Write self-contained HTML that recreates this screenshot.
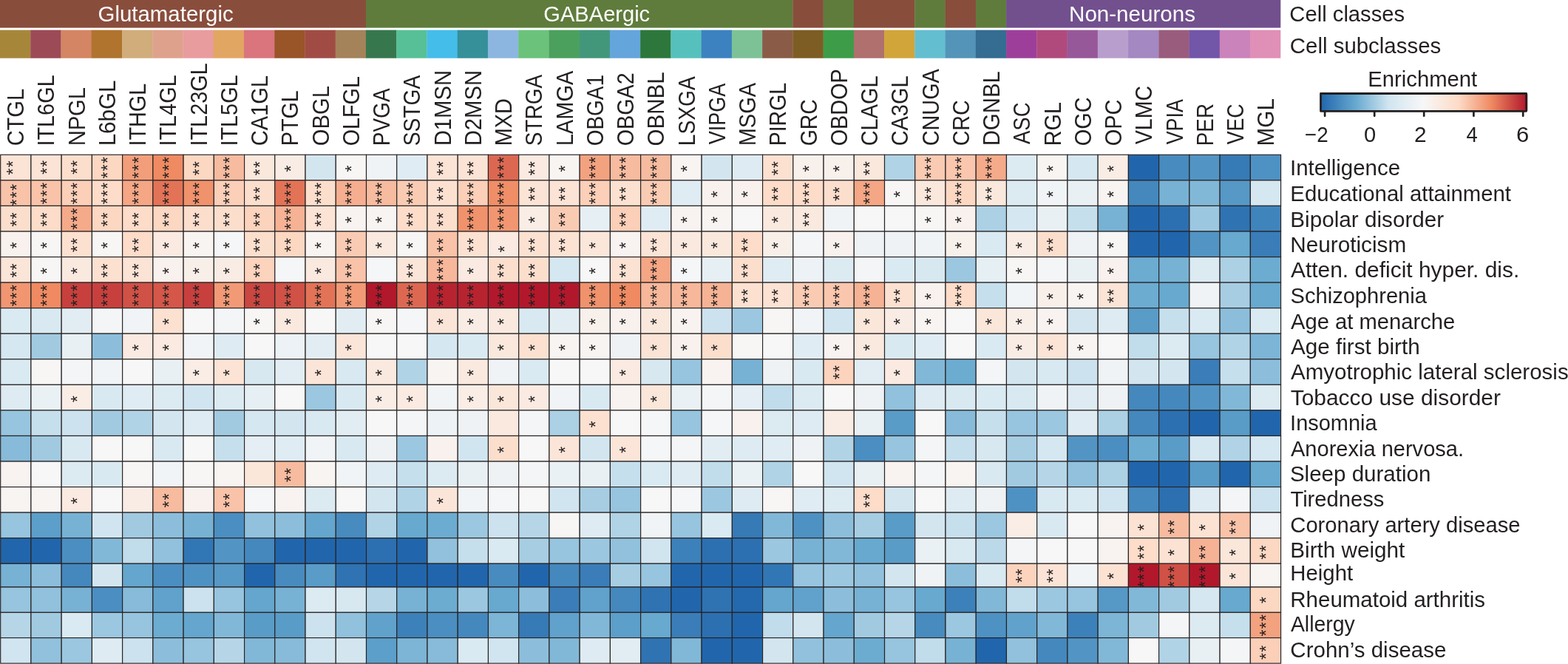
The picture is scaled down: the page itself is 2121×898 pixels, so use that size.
<!DOCTYPE html>
<html lang="en"><head><meta charset="utf-8"><title>Enrichment heatmap</title>
<style>html,body{margin:0;padding:0;background:#fff}body{width:2121px;height:898px;overflow:hidden}svg{display:block}text{font-family:'Liberation Sans', Arial, Helvetica, sans-serif;fill:#231f20}.w{fill:#fff}.g rect{stroke:#272223;stroke-width:1.15}</style></head><body>
<svg width="2121" height="898" viewBox="0 0 2121 898" role="img" aria-label="Heatmap of trait enrichment across cell subclasses">
<rect width="2121" height="898" fill="#fff"/>
<g id="classes">
<rect x="0" y="0" width="495.24" height="37.6" fill="#894d3c"/>
<rect x="494.94" y="0" width="577.73" height="37.6" fill="#5f7c3c"/>
<rect x="1072.37" y="0" width="41.55" height="37.6" fill="#894d3c"/>
<rect x="1113.62" y="0" width="41.54" height="37.6" fill="#5f7c3c"/>
<rect x="1154.86" y="0" width="82.79" height="37.6" fill="#894d3c"/>
<rect x="1237.35" y="0" width="41.55" height="37.6" fill="#5f7c3c"/>
<rect x="1278.6" y="0" width="41.54" height="37.6" fill="#894d3c"/>
<rect x="1319.84" y="0" width="41.54" height="37.6" fill="#5f7c3c"/>
<rect x="1361.08" y="0" width="371.21" height="37.6" fill="#71508d"/>
</g>
<g id="subclasses">
<rect x="0" y="40.6" width="41.54" height="38.1" fill="#a6873a"/>
<rect x="41.24" y="40.6" width="41.54" height="38.1" fill="#9c4a56"/>
<rect x="82.49" y="40.6" width="41.54" height="38.1" fill="#d48564"/>
<rect x="123.73" y="40.6" width="41.54" height="38.1" fill="#b0742e"/>
<rect x="164.98" y="40.6" width="41.54" height="38.1" fill="#d0ad7a"/>
<rect x="206.22" y="40.6" width="41.54" height="38.1" fill="#dea18c"/>
<rect x="247.47" y="40.6" width="41.54" height="38.1" fill="#e89c9e"/>
<rect x="288.71" y="40.6" width="41.54" height="38.1" fill="#e2a663"/>
<rect x="329.96" y="40.6" width="41.54" height="38.1" fill="#da747d"/>
<rect x="371.2" y="40.6" width="41.54" height="38.1" fill="#995428"/>
<rect x="412.45" y="40.6" width="41.54" height="38.1" fill="#a04c44"/>
<rect x="453.69" y="40.6" width="41.54" height="38.1" fill="#a4835a"/>
<rect x="494.94" y="40.6" width="41.54" height="38.1" fill="#37774e"/>
<rect x="536.18" y="40.6" width="41.54" height="38.1" fill="#57c097"/>
<rect x="577.43" y="40.6" width="41.54" height="38.1" fill="#45bdea"/>
<rect x="618.67" y="40.6" width="41.54" height="38.1" fill="#359099"/>
<rect x="659.92" y="40.6" width="41.54" height="38.1" fill="#8cb6e0"/>
<rect x="701.16" y="40.6" width="41.54" height="38.1" fill="#6bc27b"/>
<rect x="742.41" y="40.6" width="41.54" height="38.1" fill="#4ba05e"/>
<rect x="783.65" y="40.6" width="41.54" height="38.1" fill="#42977b"/>
<rect x="824.9" y="40.6" width="41.54" height="38.1" fill="#64a5db"/>
<rect x="866.14" y="40.6" width="41.54" height="38.1" fill="#2d773c"/>
<rect x="907.39" y="40.6" width="41.54" height="38.1" fill="#56c1bc"/>
<rect x="948.63" y="40.6" width="41.54" height="38.1" fill="#3c82c0"/>
<rect x="989.88" y="40.6" width="41.54" height="38.1" fill="#7dc297"/>
<rect x="1031.12" y="40.6" width="41.54" height="38.1" fill="#8a5c48"/>
<rect x="1072.37" y="40.6" width="41.54" height="38.1" fill="#7e5d24"/>
<rect x="1113.62" y="40.6" width="41.54" height="38.1" fill="#3d9c47"/>
<rect x="1154.86" y="40.6" width="41.54" height="38.1" fill="#b0706e"/>
<rect x="1196.11" y="40.6" width="41.54" height="38.1" fill="#d1a53a"/>
<rect x="1237.35" y="40.6" width="41.54" height="38.1" fill="#63bed0"/>
<rect x="1278.6" y="40.6" width="41.54" height="38.1" fill="#5394b8"/>
<rect x="1319.84" y="40.6" width="41.54" height="38.1" fill="#346c92"/>
<rect x="1361.08" y="40.6" width="41.54" height="38.1" fill="#9d3f9a"/>
<rect x="1402.33" y="40.6" width="41.54" height="38.1" fill="#b04a7c"/>
<rect x="1443.57" y="40.6" width="41.54" height="38.1" fill="#97589a"/>
<rect x="1484.82" y="40.6" width="41.54" height="38.1" fill="#b89ecd"/>
<rect x="1526.06" y="40.6" width="41.54" height="38.1" fill="#a388c2"/>
<rect x="1567.31" y="40.6" width="41.54" height="38.1" fill="#9a5c7c"/>
<rect x="1608.55" y="40.6" width="41.54" height="38.1" fill="#7256a8"/>
<rect x="1649.8" y="40.6" width="41.54" height="38.1" fill="#cb83bb"/>
<rect x="1691.04" y="40.6" width="41.24" height="38.1" fill="#e08fb6"/>
</g>
<text x="132.53" y="28.8" font-size="30" textLength="183.2" lengthAdjust="spacingAndGlyphs" class="w">Glutamatergic</text>
<text x="735.35" y="28.8" font-size="30" textLength="143.82" lengthAdjust="spacingAndGlyphs" class="w">GABAergic</text>
<text x="1446.03" y="28.8" font-size="30" textLength="170.99" lengthAdjust="spacingAndGlyphs" class="w">Non-neurons</text>
<text x="1744.34" y="28.8" font-size="30" textLength="155.88" lengthAdjust="spacingAndGlyphs">Cell classes</text>
<text x="1744.83" y="72.2" font-size="30" textLength="204.37" lengthAdjust="spacingAndGlyphs">Cell subclasses</text>
<g id="collabels">
<text transform="translate(32.2 197.35) rotate(-90)" font-size="30.5" textLength="77.43" lengthAdjust="spacingAndGlyphs">CTGL</text>
<text transform="translate(73.45 197.6) rotate(-90)" font-size="30.5" textLength="96.31" lengthAdjust="spacingAndGlyphs">ITL6GL</text>
<text transform="translate(114.7 197.33) rotate(-90)" font-size="30.5" textLength="79.3" lengthAdjust="spacingAndGlyphs">NPGL</text>
<text transform="translate(155.95 197.37) rotate(-90)" font-size="30.5" textLength="88.93" lengthAdjust="spacingAndGlyphs">L6bGL</text>
<text transform="translate(197.2 197.59) rotate(-90)" font-size="30.5" textLength="84.79" lengthAdjust="spacingAndGlyphs">ITHGL</text>
<text transform="translate(238.45 197.6) rotate(-90)" font-size="30.5" textLength="96.31" lengthAdjust="spacingAndGlyphs">ITL4GL</text>
<text transform="translate(279.7 197.6) rotate(-90)" font-size="30.5" textLength="112.4" lengthAdjust="spacingAndGlyphs">ITL23GL</text>
<text transform="translate(320.95 197.6) rotate(-90)" font-size="30.5" textLength="96.31" lengthAdjust="spacingAndGlyphs">ITL5GL</text>
<text transform="translate(362.2 197.35) rotate(-90)" font-size="30.5" textLength="95.41" lengthAdjust="spacingAndGlyphs">CA1GL</text>
<text transform="translate(403.45 197.3) rotate(-90)" font-size="30.5" textLength="75.12" lengthAdjust="spacingAndGlyphs">PTGL</text>
<text transform="translate(444.7 197.36) rotate(-90)" font-size="30.5" textLength="81.31" lengthAdjust="spacingAndGlyphs">OBGL</text>
<text transform="translate(485.95 197.34) rotate(-90)" font-size="30.5" textLength="94.27" lengthAdjust="spacingAndGlyphs">OLFGL</text>
<text transform="translate(527.2 197.24) rotate(-90)" font-size="30.5" textLength="77.81" lengthAdjust="spacingAndGlyphs">PVGA</text>
<text transform="translate(568.45 197.31) rotate(-90)" font-size="30.5" textLength="95.5" lengthAdjust="spacingAndGlyphs">SSTGA</text>
<text transform="translate(609.7 197.34) rotate(-90)" font-size="30.5" textLength="102.5" lengthAdjust="spacingAndGlyphs">D1MSN</text>
<text transform="translate(650.95 197.34) rotate(-90)" font-size="30.5" textLength="102.5" lengthAdjust="spacingAndGlyphs">D2MSN</text>
<text transform="translate(692.2 197.3) rotate(-90)" font-size="30.5" textLength="64.01" lengthAdjust="spacingAndGlyphs">MXD</text>
<text transform="translate(733.45 197.3) rotate(-90)" font-size="30.5" textLength="96.44" lengthAdjust="spacingAndGlyphs">STRGA</text>
<text transform="translate(774.7 197.32) rotate(-90)" font-size="30.5" textLength="101.65" lengthAdjust="spacingAndGlyphs">LAMGA</text>
<text transform="translate(815.95 197.3) rotate(-90)" font-size="30.5" textLength="96.28" lengthAdjust="spacingAndGlyphs">OBGA1</text>
<text transform="translate(857.2 197.34) rotate(-90)" font-size="30.5" textLength="98.95" lengthAdjust="spacingAndGlyphs">OBGA2</text>
<text transform="translate(898.45 197.38) rotate(-90)" font-size="30.5" textLength="100.07" lengthAdjust="spacingAndGlyphs">OBNBL</text>
<text transform="translate(939.7 197.26) rotate(-90)" font-size="30.5" textLength="94.1" lengthAdjust="spacingAndGlyphs">LSXGA</text>
<text transform="translate(980.95 195.27) rotate(-90)" font-size="30.5" textLength="82.65" lengthAdjust="spacingAndGlyphs">VIPGA</text>
<text transform="translate(1022.2 197.32) rotate(-90)" font-size="30.5" textLength="85.46" lengthAdjust="spacingAndGlyphs">MSGA</text>
<text transform="translate(1063.45 197.28) rotate(-90)" font-size="30.5" textLength="85.36" lengthAdjust="spacingAndGlyphs">PIRGL</text>
<text transform="translate(1104.7 197.32) rotate(-90)" font-size="30.5" textLength="63.22" lengthAdjust="spacingAndGlyphs">GRC</text>
<text transform="translate(1145.95 197.34) rotate(-90)" font-size="30.5" textLength="104.14" lengthAdjust="spacingAndGlyphs">OBDOP</text>
<text transform="translate(1187.2 197.35) rotate(-90)" font-size="30.5" textLength="94.9" lengthAdjust="spacingAndGlyphs">CLAGL</text>
<text transform="translate(1228.45 197.35) rotate(-90)" font-size="30.5" textLength="94.9" lengthAdjust="spacingAndGlyphs">CA3GL</text>
<text transform="translate(1269.7 197.34) rotate(-90)" font-size="30.5" textLength="104.18" lengthAdjust="spacingAndGlyphs">CNUGA</text>
<text transform="translate(1310.95 197.33) rotate(-90)" font-size="30.5" textLength="62.07" lengthAdjust="spacingAndGlyphs">CRC</text>
<text transform="translate(1352.2 197.35) rotate(-90)" font-size="30.5" textLength="101.19" lengthAdjust="spacingAndGlyphs">DGNBL</text>
<text transform="translate(1393.45 195) rotate(-90)" font-size="30.5" textLength="56.47" lengthAdjust="spacingAndGlyphs">ASC</text>
<text transform="translate(1434.7 197.31) rotate(-90)" font-size="30.5" textLength="59.25" lengthAdjust="spacingAndGlyphs">RGL</text>
<text transform="translate(1475.95 197.35) rotate(-90)" font-size="30.5" textLength="65.94" lengthAdjust="spacingAndGlyphs">OGC</text>
<text transform="translate(1517.2 197.35) rotate(-90)" font-size="30.5" textLength="62.92" lengthAdjust="spacingAndGlyphs">OPC</text>
<text transform="translate(1558.45 195.29) rotate(-90)" font-size="30.5" textLength="79.37" lengthAdjust="spacingAndGlyphs">VLMC</text>
<text transform="translate(1599.7 195.27) rotate(-90)" font-size="30.5" textLength="61.14" lengthAdjust="spacingAndGlyphs">VPIA</text>
<text transform="translate(1640.95 197.22) rotate(-90)" font-size="30.5" textLength="57.19" lengthAdjust="spacingAndGlyphs">PER</text>
<text transform="translate(1682.2 195.27) rotate(-90)" font-size="30.5" textLength="54.9" lengthAdjust="spacingAndGlyphs">VEC</text>
<text transform="translate(1723.45 197.38) rotate(-90)" font-size="30.5" textLength="64.38" lengthAdjust="spacingAndGlyphs">MGL</text>
</g>
<text x="1850.26" y="116.7" font-size="30" textLength="147.96" lengthAdjust="spacingAndGlyphs">Enrichment</text>
<defs><linearGradient id="cb" x1="0" x2="1" y1="0" y2="0">
<stop offset="0" stop-color="#2166ac"/>
<stop offset="0.17" stop-color="#67a9cf"/>
<stop offset="0.33" stop-color="#d1e5f0"/>
<stop offset="0.5" stop-color="#f7f7f7"/>
<stop offset="0.67" stop-color="#fddbc7"/>
<stop offset="0.83" stop-color="#ef8a62"/>
<stop offset="1" stop-color="#b2182b"/>
</linearGradient></defs>
<rect x="2065.6" y="127.2" width="1.3" height="22.6" fill="#f4a6ae"/>
<rect x="1786.5" y="126.5" width="278.1" height="23.8" fill="url(#cb)" stroke="#231f20" stroke-width="2.8" stroke-linejoin="round"/>
<line x1="1792.1" y1="151" x2="1792.1" y2="156.8" stroke="#231f20" stroke-width="2.7" stroke-linecap="round"/>
<line x1="1859.2" y1="151" x2="1859.2" y2="156.8" stroke="#231f20" stroke-width="2.7" stroke-linecap="round"/>
<line x1="1926.2" y1="151" x2="1926.2" y2="156.8" stroke="#231f20" stroke-width="2.7" stroke-linecap="round"/>
<line x1="1993.4" y1="151" x2="1993.4" y2="156.8" stroke="#231f20" stroke-width="2.7" stroke-linecap="round"/>
<line x1="2060.2" y1="151" x2="2060.2" y2="156.8" stroke="#231f20" stroke-width="2.7" stroke-linecap="round"/>
<text x="1765.11" y="191.6" font-size="29" textLength="31.68" lengthAdjust="spacingAndGlyphs">−2</text>
<text x="1845.03" y="191.6" font-size="29" textLength="16.22" lengthAdjust="spacingAndGlyphs">0</text>
<text x="1913.01" y="191.6" font-size="29" textLength="16.57" lengthAdjust="spacingAndGlyphs">2</text>
<text x="1983.45" y="191.6" font-size="29" textLength="15.27" lengthAdjust="spacingAndGlyphs">4</text>
<text x="2050.95" y="191.6" font-size="29" textLength="17.29" lengthAdjust="spacingAndGlyphs">6</text>
<g class="g">
<rect x="0.7" y="209.3" width="41.23" height="34.56" fill="#fbe3d5"/>
<rect x="41.94" y="209.3" width="41.23" height="34.56" fill="#fbe3d5"/>
<rect x="83.17" y="209.3" width="41.23" height="34.56" fill="#fcdecd"/>
<rect x="124.41" y="209.3" width="41.23" height="34.56" fill="#fcd7c2"/>
<rect x="165.64" y="209.3" width="41.23" height="34.56" fill="#f29e7b"/>
<rect x="206.88" y="209.3" width="41.23" height="34.56" fill="#ef8a62"/>
<rect x="248.11" y="209.3" width="41.23" height="34.56" fill="#fcd7c2"/>
<rect x="289.34" y="209.3" width="41.23" height="34.56" fill="#f7bb9f"/>
<rect x="330.58" y="209.3" width="41.23" height="34.56" fill="#fae8dd"/>
<rect x="371.81" y="209.3" width="41.23" height="34.56" fill="#f9ece4"/>
<rect x="413.05" y="209.3" width="41.23" height="34.56" fill="#d3e6f0"/>
<rect x="454.28" y="209.3" width="41.23" height="34.56" fill="#f7f6f5"/>
<rect x="495.52" y="209.3" width="41.23" height="34.56" fill="#eff3f6"/>
<rect x="536.75" y="209.3" width="41.23" height="34.56" fill="#e0ecf3"/>
<rect x="577.99" y="209.3" width="41.23" height="34.56" fill="#fbe3d5"/>
<rect x="619.23" y="209.3" width="41.23" height="34.56" fill="#fbe3d5"/>
<rect x="660.46" y="209.3" width="41.23" height="34.56" fill="#dd6852"/>
<rect x="701.7" y="209.3" width="41.23" height="34.56" fill="#faeae1"/>
<rect x="742.93" y="209.3" width="41.23" height="34.56" fill="#f8f4f2"/>
<rect x="784.17" y="209.3" width="41.23" height="34.56" fill="#f3a280"/>
<rect x="825.4" y="209.3" width="41.23" height="34.56" fill="#f7bb9f"/>
<rect x="866.63" y="209.3" width="41.23" height="34.56" fill="#f7bb9f"/>
<rect x="907.87" y="209.3" width="41.23" height="34.56" fill="#f8f4f2"/>
<rect x="949.11" y="209.3" width="41.23" height="34.56" fill="#d3e6f0"/>
<rect x="990.34" y="209.3" width="41.23" height="34.56" fill="#deebf2"/>
<rect x="1031.58" y="209.3" width="41.23" height="34.56" fill="#fce1d1"/>
<rect x="1072.81" y="209.3" width="41.23" height="34.56" fill="#f8f0eb"/>
<rect x="1114.05" y="209.3" width="41.23" height="34.56" fill="#f8f0eb"/>
<rect x="1155.28" y="209.3" width="41.23" height="34.56" fill="#fae8dd"/>
<rect x="1196.52" y="209.3" width="41.23" height="34.56" fill="#b1d3e6"/>
<rect x="1237.75" y="209.3" width="41.23" height="34.56" fill="#facbb3"/>
<rect x="1278.99" y="209.3" width="41.23" height="34.56" fill="#fac7ae"/>
<rect x="1320.22" y="209.3" width="41.23" height="34.56" fill="#f5aa8a"/>
<rect x="1361.45" y="209.3" width="41.23" height="34.56" fill="#dceaf2"/>
<rect x="1402.69" y="209.3" width="41.23" height="34.56" fill="#f8f4f1"/>
<rect x="1443.92" y="209.3" width="41.23" height="34.56" fill="#d5e7f1"/>
<rect x="1485.16" y="209.3" width="41.23" height="34.56" fill="#f9ede6"/>
<rect x="1526.39" y="209.3" width="41.23" height="34.56" fill="#2166ac"/>
<rect x="1567.63" y="209.3" width="41.23" height="34.56" fill="#488bbf"/>
<rect x="1608.87" y="209.3" width="41.23" height="34.56" fill="#5295c4"/>
<rect x="1650.1" y="209.3" width="41.23" height="34.56" fill="#367ab6"/>
<rect x="1691.34" y="209.3" width="41.23" height="34.56" fill="#4e92c3"/>
<rect x="0.7" y="243.86" width="41.23" height="34.56" fill="#f9c3a9"/>
<rect x="41.94" y="243.86" width="41.23" height="34.56" fill="#f9c3a9"/>
<rect x="83.17" y="243.86" width="41.23" height="34.56" fill="#fbcfb8"/>
<rect x="124.41" y="243.86" width="41.23" height="34.56" fill="#fddcc9"/>
<rect x="165.64" y="243.86" width="41.23" height="34.56" fill="#f4a685"/>
<rect x="206.88" y="243.86" width="41.23" height="34.56" fill="#e37357"/>
<rect x="248.11" y="243.86" width="41.23" height="34.56" fill="#f0926c"/>
<rect x="289.34" y="243.86" width="41.23" height="34.56" fill="#fbcfb8"/>
<rect x="330.58" y="243.86" width="41.23" height="34.56" fill="#fcdecd"/>
<rect x="371.81" y="243.86" width="41.23" height="34.56" fill="#e37357"/>
<rect x="413.05" y="243.86" width="41.23" height="34.56" fill="#fcdecd"/>
<rect x="454.28" y="243.86" width="41.23" height="34.56" fill="#f5ae8f"/>
<rect x="495.52" y="243.86" width="41.23" height="34.56" fill="#f7bb9f"/>
<rect x="536.75" y="243.86" width="41.23" height="34.56" fill="#facbb3"/>
<rect x="577.99" y="243.86" width="41.23" height="34.56" fill="#fce1d1"/>
<rect x="619.23" y="243.86" width="41.23" height="34.56" fill="#fbcfb8"/>
<rect x="660.46" y="243.86" width="41.23" height="34.56" fill="#f08e67"/>
<rect x="701.7" y="243.86" width="41.23" height="34.56" fill="#fbe3d5"/>
<rect x="742.93" y="243.86" width="41.23" height="34.56" fill="#fbe3d5"/>
<rect x="784.17" y="243.86" width="41.23" height="34.56" fill="#fbcfb8"/>
<rect x="825.4" y="243.86" width="41.23" height="34.56" fill="#fce1d1"/>
<rect x="866.63" y="243.86" width="41.23" height="34.56" fill="#facbb3"/>
<rect x="907.87" y="243.86" width="41.23" height="34.56" fill="#e0ecf3"/>
<rect x="949.11" y="243.86" width="41.23" height="34.56" fill="#f8f1ed"/>
<rect x="990.34" y="243.86" width="41.23" height="34.56" fill="#f8f1ed"/>
<rect x="1031.58" y="243.86" width="41.23" height="34.56" fill="#fddcc9"/>
<rect x="1072.81" y="243.86" width="41.23" height="34.56" fill="#fddcc9"/>
<rect x="1114.05" y="243.86" width="41.23" height="34.56" fill="#fcdecd"/>
<rect x="1155.28" y="243.86" width="41.23" height="34.56" fill="#f4a685"/>
<rect x="1196.52" y="243.86" width="41.23" height="34.56" fill="#f7f6f5"/>
<rect x="1237.75" y="243.86" width="41.23" height="34.56" fill="#fae8dd"/>
<rect x="1278.99" y="243.86" width="41.23" height="34.56" fill="#fcd7c2"/>
<rect x="1320.22" y="243.86" width="41.23" height="34.56" fill="#fae8dd"/>
<rect x="1361.45" y="243.86" width="41.23" height="34.56" fill="#dceaf2"/>
<rect x="1402.69" y="243.86" width="41.23" height="34.56" fill="#f1f4f6"/>
<rect x="1443.92" y="243.86" width="41.23" height="34.56" fill="#e8f0f4"/>
<rect x="1485.16" y="243.86" width="41.23" height="34.56" fill="#f8f4f2"/>
<rect x="1526.39" y="243.86" width="41.23" height="34.56" fill="#4488be"/>
<rect x="1567.63" y="243.86" width="41.23" height="34.56" fill="#77b2d4"/>
<rect x="1608.87" y="243.86" width="41.23" height="34.56" fill="#82b8d7"/>
<rect x="1650.1" y="243.86" width="41.23" height="34.56" fill="#5698c6"/>
<rect x="1691.34" y="243.86" width="41.23" height="34.56" fill="#d5e7f1"/>
<rect x="0.7" y="278.42" width="41.23" height="34.56" fill="#fcdecd"/>
<rect x="41.94" y="278.42" width="41.23" height="34.56" fill="#fddcc9"/>
<rect x="83.17" y="278.42" width="41.23" height="34.56" fill="#f5aa8a"/>
<rect x="124.41" y="278.42" width="41.23" height="34.56" fill="#fcd7c2"/>
<rect x="165.64" y="278.42" width="41.23" height="34.56" fill="#fddcc9"/>
<rect x="206.88" y="278.42" width="41.23" height="34.56" fill="#fcd7c2"/>
<rect x="248.11" y="278.42" width="41.23" height="34.56" fill="#fcdecd"/>
<rect x="289.34" y="278.42" width="41.23" height="34.56" fill="#fcdecd"/>
<rect x="330.58" y="278.42" width="41.23" height="34.56" fill="#fcd3bd"/>
<rect x="371.81" y="278.42" width="41.23" height="34.56" fill="#f6b294"/>
<rect x="413.05" y="278.42" width="41.23" height="34.56" fill="#fbe3d5"/>
<rect x="454.28" y="278.42" width="41.23" height="34.56" fill="#f8f3f0"/>
<rect x="495.52" y="278.42" width="41.23" height="34.56" fill="#f8f4f1"/>
<rect x="536.75" y="278.42" width="41.23" height="34.56" fill="#fddcc9"/>
<rect x="577.99" y="278.42" width="41.23" height="34.56" fill="#fcdecd"/>
<rect x="619.23" y="278.42" width="41.23" height="34.56" fill="#f0926c"/>
<rect x="660.46" y="278.42" width="41.23" height="34.56" fill="#f19671"/>
<rect x="701.7" y="278.42" width="41.23" height="34.56" fill="#f9ede6"/>
<rect x="742.93" y="278.42" width="41.23" height="34.56" fill="#facbb3"/>
<rect x="784.17" y="278.42" width="41.23" height="34.56" fill="#e6eff4"/>
<rect x="825.4" y="278.42" width="41.23" height="34.56" fill="#fbcfb8"/>
<rect x="866.63" y="278.42" width="41.23" height="34.56" fill="#e0ecf3"/>
<rect x="907.87" y="278.42" width="41.23" height="34.56" fill="#f8f3f0"/>
<rect x="949.11" y="278.42" width="41.23" height="34.56" fill="#f8f4f2"/>
<rect x="990.34" y="278.42" width="41.23" height="34.56" fill="#f7f7f7"/>
<rect x="1031.58" y="278.42" width="41.23" height="34.56" fill="#fae9df"/>
<rect x="1072.81" y="278.42" width="41.23" height="34.56" fill="#fae9df"/>
<rect x="1114.05" y="278.42" width="41.23" height="34.56" fill="#eff3f6"/>
<rect x="1155.28" y="278.42" width="41.23" height="34.56" fill="#f7f7f7"/>
<rect x="1196.52" y="278.42" width="41.23" height="34.56" fill="#f7f7f7"/>
<rect x="1237.75" y="278.42" width="41.23" height="34.56" fill="#f7f6f5"/>
<rect x="1278.99" y="278.42" width="41.23" height="34.56" fill="#f8f1ed"/>
<rect x="1320.22" y="278.42" width="41.23" height="34.56" fill="#acd0e4"/>
<rect x="1361.45" y="278.42" width="41.23" height="34.56" fill="#d5e7f1"/>
<rect x="1402.69" y="278.42" width="41.23" height="34.56" fill="#e8f0f4"/>
<rect x="1443.92" y="278.42" width="41.23" height="34.56" fill="#c6dfed"/>
<rect x="1485.16" y="278.42" width="41.23" height="34.56" fill="#77b2d4"/>
<rect x="1526.39" y="278.42" width="41.23" height="34.56" fill="#2166ac"/>
<rect x="1567.63" y="278.42" width="41.23" height="34.56" fill="#2c70b1"/>
<rect x="1608.87" y="278.42" width="41.23" height="34.56" fill="#9cc7e0"/>
<rect x="1650.1" y="278.42" width="41.23" height="34.56" fill="#2f73b3"/>
<rect x="1691.34" y="278.42" width="41.23" height="34.56" fill="#4084bc"/>
<rect x="0.7" y="312.98" width="41.23" height="34.56" fill="#f8f1ed"/>
<rect x="41.94" y="312.98" width="41.23" height="34.56" fill="#f7f6f5"/>
<rect x="83.17" y="312.98" width="41.23" height="34.56" fill="#fce1d1"/>
<rect x="124.41" y="312.98" width="41.23" height="34.56" fill="#f7f6f5"/>
<rect x="165.64" y="312.98" width="41.23" height="34.56" fill="#fddcc9"/>
<rect x="206.88" y="312.98" width="41.23" height="34.56" fill="#faeae1"/>
<rect x="248.11" y="312.98" width="41.23" height="34.56" fill="#f8f4f1"/>
<rect x="289.34" y="312.98" width="41.23" height="34.56" fill="#f5f6f7"/>
<rect x="330.58" y="312.98" width="41.23" height="34.56" fill="#fcdecd"/>
<rect x="371.81" y="312.98" width="41.23" height="34.56" fill="#fcd7c2"/>
<rect x="413.05" y="312.98" width="41.23" height="34.56" fill="#f8f4f2"/>
<rect x="454.28" y="312.98" width="41.23" height="34.56" fill="#facbb3"/>
<rect x="495.52" y="312.98" width="41.23" height="34.56" fill="#fae9df"/>
<rect x="536.75" y="312.98" width="41.23" height="34.56" fill="#f7f6f5"/>
<rect x="577.99" y="312.98" width="41.23" height="34.56" fill="#f9c3a9"/>
<rect x="619.23" y="312.98" width="41.23" height="34.56" fill="#fce1d1"/>
<rect x="660.46" y="312.98" width="41.23" height="34.56" fill="#faeae1"/>
<rect x="701.7" y="312.98" width="41.23" height="34.56" fill="#fce1d1"/>
<rect x="742.93" y="312.98" width="41.23" height="34.56" fill="#fce2d3"/>
<rect x="784.17" y="312.98" width="41.23" height="34.56" fill="#fbe6da"/>
<rect x="825.4" y="312.98" width="41.23" height="34.56" fill="#f8f3f1"/>
<rect x="866.63" y="312.98" width="41.23" height="34.56" fill="#fbe3d5"/>
<rect x="907.87" y="312.98" width="41.23" height="34.56" fill="#fae9df"/>
<rect x="949.11" y="312.98" width="41.23" height="34.56" fill="#fae8dd"/>
<rect x="990.34" y="312.98" width="41.23" height="34.56" fill="#fddcc9"/>
<rect x="1031.58" y="312.98" width="41.23" height="34.56" fill="#f9efe9"/>
<rect x="1072.81" y="312.98" width="41.23" height="34.56" fill="#f3f5f6"/>
<rect x="1114.05" y="312.98" width="41.23" height="34.56" fill="#f8f1ed"/>
<rect x="1155.28" y="312.98" width="41.23" height="34.56" fill="#eef2f5"/>
<rect x="1196.52" y="312.98" width="41.23" height="34.56" fill="#eef2f5"/>
<rect x="1237.75" y="312.98" width="41.23" height="34.56" fill="#eff3f6"/>
<rect x="1278.99" y="312.98" width="41.23" height="34.56" fill="#f8f0eb"/>
<rect x="1320.22" y="312.98" width="41.23" height="34.56" fill="#daeaf2"/>
<rect x="1361.45" y="312.98" width="41.23" height="34.56" fill="#f9ece4"/>
<rect x="1402.69" y="312.98" width="41.23" height="34.56" fill="#fcdecd"/>
<rect x="1443.92" y="312.98" width="41.23" height="34.56" fill="#eef2f5"/>
<rect x="1485.16" y="312.98" width="41.23" height="34.56" fill="#f7f6f5"/>
<rect x="1526.39" y="312.98" width="41.23" height="34.56" fill="#2166ac"/>
<rect x="1567.63" y="312.98" width="41.23" height="34.56" fill="#2166ac"/>
<rect x="1608.87" y="312.98" width="41.23" height="34.56" fill="#5295c4"/>
<rect x="1650.1" y="312.98" width="41.23" height="34.56" fill="#67a9cf"/>
<rect x="1691.34" y="312.98" width="41.23" height="34.56" fill="#3a7db8"/>
<rect x="0.7" y="347.54" width="41.23" height="34.56" fill="#fbe5d8"/>
<rect x="41.94" y="347.54" width="41.23" height="34.56" fill="#f7f6f5"/>
<rect x="83.17" y="347.54" width="41.23" height="34.56" fill="#fae9df"/>
<rect x="124.41" y="347.54" width="41.23" height="34.56" fill="#fce1d1"/>
<rect x="165.64" y="347.54" width="41.23" height="34.56" fill="#fbe3d5"/>
<rect x="206.88" y="347.54" width="41.23" height="34.56" fill="#f8f1ed"/>
<rect x="248.11" y="347.54" width="41.23" height="34.56" fill="#f9efe9"/>
<rect x="289.34" y="347.54" width="41.23" height="34.56" fill="#f9ece4"/>
<rect x="330.58" y="347.54" width="41.23" height="34.56" fill="#fcd3bd"/>
<rect x="371.81" y="347.54" width="41.23" height="34.56" fill="#f5f6f7"/>
<rect x="413.05" y="347.54" width="41.23" height="34.56" fill="#fae9df"/>
<rect x="454.28" y="347.54" width="41.23" height="34.56" fill="#f9c3a9"/>
<rect x="495.52" y="347.54" width="41.23" height="34.56" fill="#f5f6f7"/>
<rect x="536.75" y="347.54" width="41.23" height="34.56" fill="#fbe5d8"/>
<rect x="577.99" y="347.54" width="41.23" height="34.56" fill="#f7b79a"/>
<rect x="619.23" y="347.54" width="41.23" height="34.56" fill="#faeae1"/>
<rect x="660.46" y="347.54" width="41.23" height="34.56" fill="#fcdecd"/>
<rect x="701.7" y="347.54" width="41.23" height="34.56" fill="#fcdecd"/>
<rect x="742.93" y="347.54" width="41.23" height="34.56" fill="#d5e7f1"/>
<rect x="784.17" y="347.54" width="41.23" height="34.56" fill="#f7f7f7"/>
<rect x="825.4" y="347.54" width="41.23" height="34.56" fill="#fce2d3"/>
<rect x="866.63" y="347.54" width="41.23" height="34.56" fill="#f4a685"/>
<rect x="907.87" y="347.54" width="41.23" height="34.56" fill="#f5f6f7"/>
<rect x="949.11" y="347.54" width="41.23" height="34.56" fill="#e6eff4"/>
<rect x="990.34" y="347.54" width="41.23" height="34.56" fill="#fcdecd"/>
<rect x="1031.58" y="347.54" width="41.23" height="34.56" fill="#e0ecf3"/>
<rect x="1072.81" y="347.54" width="41.23" height="34.56" fill="#ecf2f5"/>
<rect x="1114.05" y="347.54" width="41.23" height="34.56" fill="#dceaf2"/>
<rect x="1155.28" y="347.54" width="41.23" height="34.56" fill="#f3f5f6"/>
<rect x="1196.52" y="347.54" width="41.23" height="34.56" fill="#daeaf2"/>
<rect x="1237.75" y="347.54" width="41.23" height="34.56" fill="#d7e8f1"/>
<rect x="1278.99" y="347.54" width="41.23" height="34.56" fill="#9cc7e0"/>
<rect x="1320.22" y="347.54" width="41.23" height="34.56" fill="#e6eff4"/>
<rect x="1361.45" y="347.54" width="41.23" height="34.56" fill="#f7f6f5"/>
<rect x="1402.69" y="347.54" width="41.23" height="34.56" fill="#f3f5f6"/>
<rect x="1443.92" y="347.54" width="41.23" height="34.56" fill="#e8f0f4"/>
<rect x="1485.16" y="347.54" width="41.23" height="34.56" fill="#f8f1ed"/>
<rect x="1526.39" y="347.54" width="41.23" height="34.56" fill="#6cacd1"/>
<rect x="1567.63" y="347.54" width="41.23" height="34.56" fill="#77b2d4"/>
<rect x="1608.87" y="347.54" width="41.23" height="34.56" fill="#dceaf2"/>
<rect x="1650.1" y="347.54" width="41.23" height="34.56" fill="#acd0e4"/>
<rect x="1691.34" y="347.54" width="41.23" height="34.56" fill="#6cacd1"/>
<rect x="0.7" y="382.1" width="41.23" height="34.56" fill="#f19671"/>
<rect x="41.94" y="382.1" width="41.23" height="34.56" fill="#ef8a62"/>
<rect x="83.17" y="382.1" width="41.23" height="34.56" fill="#c7403e"/>
<rect x="124.41" y="382.1" width="41.23" height="34.56" fill="#c7403e"/>
<rect x="165.64" y="382.1" width="41.23" height="34.56" fill="#d05146"/>
<rect x="206.88" y="382.1" width="41.23" height="34.56" fill="#d45749"/>
<rect x="248.11" y="382.1" width="41.23" height="34.56" fill="#c7403e"/>
<rect x="289.34" y="382.1" width="41.23" height="34.56" fill="#f29a76"/>
<rect x="330.58" y="382.1" width="41.23" height="34.56" fill="#ca4641"/>
<rect x="371.81" y="382.1" width="41.23" height="34.56" fill="#d05146"/>
<rect x="413.05" y="382.1" width="41.23" height="34.56" fill="#e37357"/>
<rect x="454.28" y="382.1" width="41.23" height="34.56" fill="#f29a76"/>
<rect x="495.52" y="382.1" width="41.23" height="34.56" fill="#b2182b"/>
<rect x="536.75" y="382.1" width="41.23" height="34.56" fill="#dd6852"/>
<rect x="577.99" y="382.1" width="41.23" height="34.56" fill="#b82330"/>
<rect x="619.23" y="382.1" width="41.23" height="34.56" fill="#b82330"/>
<rect x="660.46" y="382.1" width="41.23" height="34.56" fill="#b2182b"/>
<rect x="701.7" y="382.1" width="41.23" height="34.56" fill="#b2182b"/>
<rect x="742.93" y="382.1" width="41.23" height="34.56" fill="#b2182b"/>
<rect x="784.17" y="382.1" width="41.23" height="34.56" fill="#f0926c"/>
<rect x="825.4" y="382.1" width="41.23" height="34.56" fill="#ef8a62"/>
<rect x="866.63" y="382.1" width="41.23" height="34.56" fill="#f7b79a"/>
<rect x="907.87" y="382.1" width="41.23" height="34.56" fill="#f7b79a"/>
<rect x="949.11" y="382.1" width="41.23" height="34.56" fill="#f6b294"/>
<rect x="990.34" y="382.1" width="41.23" height="34.56" fill="#fce1d1"/>
<rect x="1031.58" y="382.1" width="41.23" height="34.56" fill="#fce2d3"/>
<rect x="1072.81" y="382.1" width="41.23" height="34.56" fill="#facbb3"/>
<rect x="1114.05" y="382.1" width="41.23" height="34.56" fill="#fac7ae"/>
<rect x="1155.28" y="382.1" width="41.23" height="34.56" fill="#f6b294"/>
<rect x="1196.52" y="382.1" width="41.23" height="34.56" fill="#fce1d1"/>
<rect x="1237.75" y="382.1" width="41.23" height="34.56" fill="#f8f1ed"/>
<rect x="1278.99" y="382.1" width="41.23" height="34.56" fill="#fddcc9"/>
<rect x="1320.22" y="382.1" width="41.23" height="34.56" fill="#c6dfed"/>
<rect x="1361.45" y="382.1" width="41.23" height="34.56" fill="#f1f4f6"/>
<rect x="1402.69" y="382.1" width="41.23" height="34.56" fill="#f9efe9"/>
<rect x="1443.92" y="382.1" width="41.23" height="34.56" fill="#f8f4f2"/>
<rect x="1485.16" y="382.1" width="41.23" height="34.56" fill="#fbe3d5"/>
<rect x="1526.39" y="382.1" width="41.23" height="34.56" fill="#6cacd1"/>
<rect x="1567.63" y="382.1" width="41.23" height="34.56" fill="#67a9cf"/>
<rect x="1608.87" y="382.1" width="41.23" height="34.56" fill="#eff3f6"/>
<rect x="1650.1" y="382.1" width="41.23" height="34.56" fill="#a7cde3"/>
<rect x="1691.34" y="382.1" width="41.23" height="34.56" fill="#67a9cf"/>
<rect x="0.7" y="416.66" width="41.23" height="34.56" fill="#daeaf2"/>
<rect x="41.94" y="416.66" width="41.23" height="34.56" fill="#d9e9f1"/>
<rect x="83.17" y="416.66" width="41.23" height="34.56" fill="#e2edf3"/>
<rect x="124.41" y="416.66" width="41.23" height="34.56" fill="#f3f5f6"/>
<rect x="165.64" y="416.66" width="41.23" height="34.56" fill="#f1f4f6"/>
<rect x="206.88" y="416.66" width="41.23" height="34.56" fill="#fce1d1"/>
<rect x="248.11" y="416.66" width="41.23" height="34.56" fill="#f7f7f7"/>
<rect x="289.34" y="416.66" width="41.23" height="34.56" fill="#f3f5f6"/>
<rect x="330.58" y="416.66" width="41.23" height="34.56" fill="#f7f6f5"/>
<rect x="371.81" y="416.66" width="41.23" height="34.56" fill="#fae9df"/>
<rect x="413.05" y="416.66" width="41.23" height="34.56" fill="#f7f7f7"/>
<rect x="454.28" y="416.66" width="41.23" height="34.56" fill="#e2edf3"/>
<rect x="495.52" y="416.66" width="41.23" height="34.56" fill="#f7f6f5"/>
<rect x="536.75" y="416.66" width="41.23" height="34.56" fill="#f5f6f7"/>
<rect x="577.99" y="416.66" width="41.23" height="34.56" fill="#fbe5d8"/>
<rect x="619.23" y="416.66" width="41.23" height="34.56" fill="#f9ece4"/>
<rect x="660.46" y="416.66" width="41.23" height="34.56" fill="#fae9df"/>
<rect x="701.7" y="416.66" width="41.23" height="34.56" fill="#d9e9f1"/>
<rect x="742.93" y="416.66" width="41.23" height="34.56" fill="#e2edf3"/>
<rect x="784.17" y="416.66" width="41.23" height="34.56" fill="#f8f0eb"/>
<rect x="825.4" y="416.66" width="41.23" height="34.56" fill="#f8f1ed"/>
<rect x="866.63" y="416.66" width="41.23" height="34.56" fill="#fae8dd"/>
<rect x="907.87" y="416.66" width="41.23" height="34.56" fill="#f8f3f0"/>
<rect x="949.11" y="416.66" width="41.23" height="34.56" fill="#cce2ee"/>
<rect x="990.34" y="416.66" width="41.23" height="34.56" fill="#9cc7e0"/>
<rect x="1031.58" y="416.66" width="41.23" height="34.56" fill="#f7f6f5"/>
<rect x="1072.81" y="416.66" width="41.23" height="34.56" fill="#f1f4f6"/>
<rect x="1114.05" y="416.66" width="41.23" height="34.56" fill="#d1e5f0"/>
<rect x="1155.28" y="416.66" width="41.23" height="34.56" fill="#fbe6da"/>
<rect x="1196.52" y="416.66" width="41.23" height="34.56" fill="#f9ece4"/>
<rect x="1237.75" y="416.66" width="41.23" height="34.56" fill="#f8f4f2"/>
<rect x="1278.99" y="416.66" width="41.23" height="34.56" fill="#f7f7f7"/>
<rect x="1320.22" y="416.66" width="41.23" height="34.56" fill="#fbe6da"/>
<rect x="1361.45" y="416.66" width="41.23" height="34.56" fill="#f9efe9"/>
<rect x="1402.69" y="416.66" width="41.23" height="34.56" fill="#f8f3f0"/>
<rect x="1443.92" y="416.66" width="41.23" height="34.56" fill="#d3e6f0"/>
<rect x="1485.16" y="416.66" width="41.23" height="34.56" fill="#deebf2"/>
<rect x="1526.39" y="416.66" width="41.23" height="34.56" fill="#599cc8"/>
<rect x="1567.63" y="416.66" width="41.23" height="34.56" fill="#c6dfed"/>
<rect x="1608.87" y="416.66" width="41.23" height="34.56" fill="#daeaf2"/>
<rect x="1650.1" y="416.66" width="41.23" height="34.56" fill="#8cbedb"/>
<rect x="1691.34" y="416.66" width="41.23" height="34.56" fill="#daeaf2"/>
<rect x="0.7" y="451.22" width="41.23" height="34.56" fill="#d5e7f1"/>
<rect x="41.94" y="451.22" width="41.23" height="34.56" fill="#a1cae1"/>
<rect x="83.17" y="451.22" width="41.23" height="34.56" fill="#e8f0f4"/>
<rect x="124.41" y="451.22" width="41.23" height="34.56" fill="#8cbedb"/>
<rect x="165.64" y="451.22" width="41.23" height="34.56" fill="#faeae1"/>
<rect x="206.88" y="451.22" width="41.23" height="34.56" fill="#faeae1"/>
<rect x="248.11" y="451.22" width="41.23" height="34.56" fill="#f1f4f6"/>
<rect x="289.34" y="451.22" width="41.23" height="34.56" fill="#deebf2"/>
<rect x="330.58" y="451.22" width="41.23" height="34.56" fill="#f7f7f7"/>
<rect x="371.81" y="451.22" width="41.23" height="34.56" fill="#ecf2f5"/>
<rect x="413.05" y="451.22" width="41.23" height="34.56" fill="#e2edf3"/>
<rect x="454.28" y="451.22" width="41.23" height="34.56" fill="#fbe5d8"/>
<rect x="495.52" y="451.22" width="41.23" height="34.56" fill="#f7f7f7"/>
<rect x="536.75" y="451.22" width="41.23" height="34.56" fill="#f7f7f7"/>
<rect x="577.99" y="451.22" width="41.23" height="34.56" fill="#d5e7f1"/>
<rect x="619.23" y="451.22" width="41.23" height="34.56" fill="#daeaf2"/>
<rect x="660.46" y="451.22" width="41.23" height="34.56" fill="#fae8dd"/>
<rect x="701.7" y="451.22" width="41.23" height="34.56" fill="#fce1d1"/>
<rect x="742.93" y="451.22" width="41.23" height="34.56" fill="#f8f4f2"/>
<rect x="784.17" y="451.22" width="41.23" height="34.56" fill="#f8f4f2"/>
<rect x="825.4" y="451.22" width="41.23" height="34.56" fill="#eef2f5"/>
<rect x="866.63" y="451.22" width="41.23" height="34.56" fill="#fbe3d5"/>
<rect x="907.87" y="451.22" width="41.23" height="34.56" fill="#f8f1ed"/>
<rect x="949.11" y="451.22" width="41.23" height="34.56" fill="#fcdecd"/>
<rect x="990.34" y="451.22" width="41.23" height="34.56" fill="#f7f6f5"/>
<rect x="1031.58" y="451.22" width="41.23" height="34.56" fill="#f7f7f7"/>
<rect x="1072.81" y="451.22" width="41.23" height="34.56" fill="#e0ecf3"/>
<rect x="1114.05" y="451.22" width="41.23" height="34.56" fill="#f8f3f0"/>
<rect x="1155.28" y="451.22" width="41.23" height="34.56" fill="#fae9df"/>
<rect x="1196.52" y="451.22" width="41.23" height="34.56" fill="#d9e9f1"/>
<rect x="1237.75" y="451.22" width="41.23" height="34.56" fill="#e0ecf3"/>
<rect x="1278.99" y="451.22" width="41.23" height="34.56" fill="#f7f7f7"/>
<rect x="1320.22" y="451.22" width="41.23" height="34.56" fill="#daeaf2"/>
<rect x="1361.45" y="451.22" width="41.23" height="34.56" fill="#f9ece4"/>
<rect x="1402.69" y="451.22" width="41.23" height="34.56" fill="#fbe3d5"/>
<rect x="1443.92" y="451.22" width="41.23" height="34.56" fill="#f8f4f2"/>
<rect x="1485.16" y="451.22" width="41.23" height="34.56" fill="#f7f7f7"/>
<rect x="1526.39" y="451.22" width="41.23" height="34.56" fill="#c1dceb"/>
<rect x="1567.63" y="451.22" width="41.23" height="34.56" fill="#dceaf2"/>
<rect x="1608.87" y="451.22" width="41.23" height="34.56" fill="#97c4de"/>
<rect x="1650.1" y="451.22" width="41.23" height="34.56" fill="#b1d3e6"/>
<rect x="1691.34" y="451.22" width="41.23" height="34.56" fill="#7cb5d6"/>
<rect x="0.7" y="485.78" width="41.23" height="34.56" fill="#daeaf2"/>
<rect x="41.94" y="485.78" width="41.23" height="34.56" fill="#f7f6f5"/>
<rect x="83.17" y="485.78" width="41.23" height="34.56" fill="#f3f5f6"/>
<rect x="124.41" y="485.78" width="41.23" height="34.56" fill="#f1f4f6"/>
<rect x="165.64" y="485.78" width="41.23" height="34.56" fill="#f7f7f7"/>
<rect x="206.88" y="485.78" width="41.23" height="34.56" fill="#e8f0f4"/>
<rect x="248.11" y="485.78" width="41.23" height="34.56" fill="#f9ede6"/>
<rect x="289.34" y="485.78" width="41.23" height="34.56" fill="#fbe3d5"/>
<rect x="330.58" y="485.78" width="41.23" height="34.56" fill="#d7e8f1"/>
<rect x="371.81" y="485.78" width="41.23" height="34.56" fill="#e2edf3"/>
<rect x="413.05" y="485.78" width="41.23" height="34.56" fill="#fbe5d8"/>
<rect x="454.28" y="485.78" width="41.23" height="34.56" fill="#d9e9f1"/>
<rect x="495.52" y="485.78" width="41.23" height="34.56" fill="#fae9df"/>
<rect x="536.75" y="485.78" width="41.23" height="34.56" fill="#b1d3e6"/>
<rect x="577.99" y="485.78" width="41.23" height="34.56" fill="#f8f4f1"/>
<rect x="619.23" y="485.78" width="41.23" height="34.56" fill="#fae9df"/>
<rect x="660.46" y="485.78" width="41.23" height="34.56" fill="#eff3f6"/>
<rect x="701.7" y="485.78" width="41.23" height="34.56" fill="#daeaf2"/>
<rect x="742.93" y="485.78" width="41.23" height="34.56" fill="#f7f7f7"/>
<rect x="784.17" y="485.78" width="41.23" height="34.56" fill="#f7f7f7"/>
<rect x="825.4" y="485.78" width="41.23" height="34.56" fill="#faeae1"/>
<rect x="866.63" y="485.78" width="41.23" height="34.56" fill="#d7e8f1"/>
<rect x="907.87" y="485.78" width="41.23" height="34.56" fill="#97c4de"/>
<rect x="949.11" y="485.78" width="41.23" height="34.56" fill="#f8f3f0"/>
<rect x="990.34" y="485.78" width="41.23" height="34.56" fill="#77b2d4"/>
<rect x="1031.58" y="485.78" width="41.23" height="34.56" fill="#eef2f5"/>
<rect x="1072.81" y="485.78" width="41.23" height="34.56" fill="#d9e9f1"/>
<rect x="1114.05" y="485.78" width="41.23" height="34.56" fill="#fcd3bd"/>
<rect x="1155.28" y="485.78" width="41.23" height="34.56" fill="#e2edf3"/>
<rect x="1196.52" y="485.78" width="41.23" height="34.56" fill="#faeae1"/>
<rect x="1237.75" y="485.78" width="41.23" height="34.56" fill="#82b8d7"/>
<rect x="1278.99" y="485.78" width="41.23" height="34.56" fill="#6cacd1"/>
<rect x="1320.22" y="485.78" width="41.23" height="34.56" fill="#f3f5f6"/>
<rect x="1361.45" y="485.78" width="41.23" height="34.56" fill="#d3e6f0"/>
<rect x="1402.69" y="485.78" width="41.23" height="34.56" fill="#d9e9f1"/>
<rect x="1443.92" y="485.78" width="41.23" height="34.56" fill="#cce2ee"/>
<rect x="1485.16" y="485.78" width="41.23" height="34.56" fill="#eff3f6"/>
<rect x="1526.39" y="485.78" width="41.23" height="34.56" fill="#d3e6f0"/>
<rect x="1567.63" y="485.78" width="41.23" height="34.56" fill="#d3e6f0"/>
<rect x="1608.87" y="485.78" width="41.23" height="34.56" fill="#3a7db8"/>
<rect x="1650.1" y="485.78" width="41.23" height="34.56" fill="#c6dfed"/>
<rect x="1691.34" y="485.78" width="41.23" height="34.56" fill="#8cbedb"/>
<rect x="0.7" y="520.34" width="41.23" height="34.56" fill="#deebf2"/>
<rect x="41.94" y="520.34" width="41.23" height="34.56" fill="#eaf1f5"/>
<rect x="83.17" y="520.34" width="41.23" height="34.56" fill="#f9ede6"/>
<rect x="124.41" y="520.34" width="41.23" height="34.56" fill="#d9e9f1"/>
<rect x="165.64" y="520.34" width="41.23" height="34.56" fill="#e0ecf3"/>
<rect x="206.88" y="520.34" width="41.23" height="34.56" fill="#dceaf2"/>
<rect x="248.11" y="520.34" width="41.23" height="34.56" fill="#d1e5f0"/>
<rect x="289.34" y="520.34" width="41.23" height="34.56" fill="#dceaf2"/>
<rect x="330.58" y="520.34" width="41.23" height="34.56" fill="#e6eff4"/>
<rect x="371.81" y="520.34" width="41.23" height="34.56" fill="#f7f7f7"/>
<rect x="413.05" y="520.34" width="41.23" height="34.56" fill="#9cc7e0"/>
<rect x="454.28" y="520.34" width="41.23" height="34.56" fill="#d9e9f1"/>
<rect x="495.52" y="520.34" width="41.23" height="34.56" fill="#f9ede6"/>
<rect x="536.75" y="520.34" width="41.23" height="34.56" fill="#faeae1"/>
<rect x="577.99" y="520.34" width="41.23" height="34.56" fill="#f1f4f6"/>
<rect x="619.23" y="520.34" width="41.23" height="34.56" fill="#f9ede6"/>
<rect x="660.46" y="520.34" width="41.23" height="34.56" fill="#fbe6da"/>
<rect x="701.7" y="520.34" width="41.23" height="34.56" fill="#faeae1"/>
<rect x="742.93" y="520.34" width="41.23" height="34.56" fill="#f1f4f6"/>
<rect x="784.17" y="520.34" width="41.23" height="34.56" fill="#d9e9f1"/>
<rect x="825.4" y="520.34" width="41.23" height="34.56" fill="#f8f3f0"/>
<rect x="866.63" y="520.34" width="41.23" height="34.56" fill="#fbe6da"/>
<rect x="907.87" y="520.34" width="41.23" height="34.56" fill="#eaf1f5"/>
<rect x="949.11" y="520.34" width="41.23" height="34.56" fill="#f3f5f6"/>
<rect x="990.34" y="520.34" width="41.23" height="34.56" fill="#e4eef4"/>
<rect x="1031.58" y="520.34" width="41.23" height="34.56" fill="#c1dceb"/>
<rect x="1072.81" y="520.34" width="41.23" height="34.56" fill="#dceaf2"/>
<rect x="1114.05" y="520.34" width="41.23" height="34.56" fill="#f7f7f7"/>
<rect x="1155.28" y="520.34" width="41.23" height="34.56" fill="#eef2f5"/>
<rect x="1196.52" y="520.34" width="41.23" height="34.56" fill="#91c1dc"/>
<rect x="1237.75" y="520.34" width="41.23" height="34.56" fill="#deebf2"/>
<rect x="1278.99" y="520.34" width="41.23" height="34.56" fill="#d9e9f1"/>
<rect x="1320.22" y="520.34" width="41.23" height="34.56" fill="#daeaf2"/>
<rect x="1361.45" y="520.34" width="41.23" height="34.56" fill="#d9e9f1"/>
<rect x="1402.69" y="520.34" width="41.23" height="34.56" fill="#eff3f6"/>
<rect x="1443.92" y="520.34" width="41.23" height="34.56" fill="#deebf2"/>
<rect x="1485.16" y="520.34" width="41.23" height="34.56" fill="#eef2f5"/>
<rect x="1526.39" y="520.34" width="41.23" height="34.56" fill="#4488be"/>
<rect x="1567.63" y="520.34" width="41.23" height="34.56" fill="#4488be"/>
<rect x="1608.87" y="520.34" width="41.23" height="34.56" fill="#5295c4"/>
<rect x="1650.1" y="520.34" width="41.23" height="34.56" fill="#82b8d7"/>
<rect x="1691.34" y="520.34" width="41.23" height="34.56" fill="#dceaf2"/>
<rect x="0.7" y="554.9" width="41.23" height="34.56" fill="#97c4de"/>
<rect x="41.94" y="554.9" width="41.23" height="34.56" fill="#c6dfed"/>
<rect x="83.17" y="554.9" width="41.23" height="34.56" fill="#cce2ee"/>
<rect x="124.41" y="554.9" width="41.23" height="34.56" fill="#a1cae1"/>
<rect x="165.64" y="554.9" width="41.23" height="34.56" fill="#b1d3e6"/>
<rect x="206.88" y="554.9" width="41.23" height="34.56" fill="#d3e6f0"/>
<rect x="248.11" y="554.9" width="41.23" height="34.56" fill="#deebf2"/>
<rect x="289.34" y="554.9" width="41.23" height="34.56" fill="#a1cae1"/>
<rect x="330.58" y="554.9" width="41.23" height="34.56" fill="#d5e7f1"/>
<rect x="371.81" y="554.9" width="41.23" height="34.56" fill="#d3e6f0"/>
<rect x="413.05" y="554.9" width="41.23" height="34.56" fill="#d9e9f1"/>
<rect x="454.28" y="554.9" width="41.23" height="34.56" fill="#e2edf3"/>
<rect x="495.52" y="554.9" width="41.23" height="34.56" fill="#f7f7f7"/>
<rect x="536.75" y="554.9" width="41.23" height="34.56" fill="#f3f5f6"/>
<rect x="577.99" y="554.9" width="41.23" height="34.56" fill="#ecf2f5"/>
<rect x="619.23" y="554.9" width="41.23" height="34.56" fill="#eef2f5"/>
<rect x="660.46" y="554.9" width="41.23" height="34.56" fill="#fae9df"/>
<rect x="701.7" y="554.9" width="41.23" height="34.56" fill="#f3f5f6"/>
<rect x="742.93" y="554.9" width="41.23" height="34.56" fill="#acd0e4"/>
<rect x="784.17" y="554.9" width="41.23" height="34.56" fill="#fce1d1"/>
<rect x="825.4" y="554.9" width="41.23" height="34.56" fill="#f7f7f7"/>
<rect x="866.63" y="554.9" width="41.23" height="34.56" fill="#f5f6f7"/>
<rect x="907.87" y="554.9" width="41.23" height="34.56" fill="#97c4de"/>
<rect x="949.11" y="554.9" width="41.23" height="34.56" fill="#f5f6f7"/>
<rect x="990.34" y="554.9" width="41.23" height="34.56" fill="#f8f1ed"/>
<rect x="1031.58" y="554.9" width="41.23" height="34.56" fill="#dceaf2"/>
<rect x="1072.81" y="554.9" width="41.23" height="34.56" fill="#deebf2"/>
<rect x="1114.05" y="554.9" width="41.23" height="34.56" fill="#f9ece4"/>
<rect x="1155.28" y="554.9" width="41.23" height="34.56" fill="#e8f0f4"/>
<rect x="1196.52" y="554.9" width="41.23" height="34.56" fill="#599cc8"/>
<rect x="1237.75" y="554.9" width="41.23" height="34.56" fill="#f7f7f7"/>
<rect x="1278.99" y="554.9" width="41.23" height="34.56" fill="#87bbd9"/>
<rect x="1320.22" y="554.9" width="41.23" height="34.56" fill="#c6dfed"/>
<rect x="1361.45" y="554.9" width="41.23" height="34.56" fill="#97c4de"/>
<rect x="1402.69" y="554.9" width="41.23" height="34.56" fill="#9cc7e0"/>
<rect x="1443.92" y="554.9" width="41.23" height="34.56" fill="#deebf2"/>
<rect x="1485.16" y="554.9" width="41.23" height="34.56" fill="#acd0e4"/>
<rect x="1526.39" y="554.9" width="41.23" height="34.56" fill="#4488be"/>
<rect x="1567.63" y="554.9" width="41.23" height="34.56" fill="#2c70b1"/>
<rect x="1608.87" y="554.9" width="41.23" height="34.56" fill="#2166ac"/>
<rect x="1650.1" y="554.9" width="41.23" height="34.56" fill="#599cc8"/>
<rect x="1691.34" y="554.9" width="41.23" height="34.56" fill="#2166ac"/>
<rect x="0.7" y="589.46" width="41.23" height="34.56" fill="#87bbd9"/>
<rect x="41.94" y="589.46" width="41.23" height="34.56" fill="#a1cae1"/>
<rect x="83.17" y="589.46" width="41.23" height="34.56" fill="#d9e9f1"/>
<rect x="124.41" y="589.46" width="41.23" height="34.56" fill="#f7f7f7"/>
<rect x="165.64" y="589.46" width="41.23" height="34.56" fill="#f7f7f7"/>
<rect x="206.88" y="589.46" width="41.23" height="34.56" fill="#d9e9f1"/>
<rect x="248.11" y="589.46" width="41.23" height="34.56" fill="#f7f7f7"/>
<rect x="289.34" y="589.46" width="41.23" height="34.56" fill="#c6dfed"/>
<rect x="330.58" y="589.46" width="41.23" height="34.56" fill="#e4eef4"/>
<rect x="371.81" y="589.46" width="41.23" height="34.56" fill="#e0ecf3"/>
<rect x="413.05" y="589.46" width="41.23" height="34.56" fill="#f1f4f6"/>
<rect x="454.28" y="589.46" width="41.23" height="34.56" fill="#d9e9f1"/>
<rect x="495.52" y="589.46" width="41.23" height="34.56" fill="#eef2f5"/>
<rect x="536.75" y="589.46" width="41.23" height="34.56" fill="#9cc7e0"/>
<rect x="577.99" y="589.46" width="41.23" height="34.56" fill="#f8f1ed"/>
<rect x="619.23" y="589.46" width="41.23" height="34.56" fill="#d1e5f0"/>
<rect x="660.46" y="589.46" width="41.23" height="34.56" fill="#fcdecd"/>
<rect x="701.7" y="589.46" width="41.23" height="34.56" fill="#f7f7f7"/>
<rect x="742.93" y="589.46" width="41.23" height="34.56" fill="#fbe5d8"/>
<rect x="784.17" y="589.46" width="41.23" height="34.56" fill="#d3e6f0"/>
<rect x="825.4" y="589.46" width="41.23" height="34.56" fill="#fbe5d8"/>
<rect x="866.63" y="589.46" width="41.23" height="34.56" fill="#f5f6f7"/>
<rect x="907.87" y="589.46" width="41.23" height="34.56" fill="#f3f5f6"/>
<rect x="949.11" y="589.46" width="41.23" height="34.56" fill="#e2edf3"/>
<rect x="990.34" y="589.46" width="41.23" height="34.56" fill="#deebf2"/>
<rect x="1031.58" y="589.46" width="41.23" height="34.56" fill="#e0ecf3"/>
<rect x="1072.81" y="589.46" width="41.23" height="34.56" fill="#eef2f5"/>
<rect x="1114.05" y="589.46" width="41.23" height="34.56" fill="#b1d3e6"/>
<rect x="1155.28" y="589.46" width="41.23" height="34.56" fill="#4b8ec1"/>
<rect x="1196.52" y="589.46" width="41.23" height="34.56" fill="#97c4de"/>
<rect x="1237.75" y="589.46" width="41.23" height="34.56" fill="#f3f5f6"/>
<rect x="1278.99" y="589.46" width="41.23" height="34.56" fill="#c6dfed"/>
<rect x="1320.22" y="589.46" width="41.23" height="34.56" fill="#d7e8f1"/>
<rect x="1361.45" y="589.46" width="41.23" height="34.56" fill="#a7cde3"/>
<rect x="1402.69" y="589.46" width="41.23" height="34.56" fill="#d5e7f1"/>
<rect x="1443.92" y="589.46" width="41.23" height="34.56" fill="#5295c4"/>
<rect x="1485.16" y="589.46" width="41.23" height="34.56" fill="#4b8ec1"/>
<rect x="1526.39" y="589.46" width="41.23" height="34.56" fill="#6cacd1"/>
<rect x="1567.63" y="589.46" width="41.23" height="34.56" fill="#599cc8"/>
<rect x="1608.87" y="589.46" width="41.23" height="34.56" fill="#d5e7f1"/>
<rect x="1650.1" y="589.46" width="41.23" height="34.56" fill="#b1d3e6"/>
<rect x="1691.34" y="589.46" width="41.23" height="34.56" fill="#d5e7f1"/>
<rect x="0.7" y="624.02" width="41.23" height="34.56" fill="#f8f3f0"/>
<rect x="41.94" y="624.02" width="41.23" height="34.56" fill="#f7f7f7"/>
<rect x="83.17" y="624.02" width="41.23" height="34.56" fill="#dceaf2"/>
<rect x="124.41" y="624.02" width="41.23" height="34.56" fill="#d9e9f1"/>
<rect x="165.64" y="624.02" width="41.23" height="34.56" fill="#f7f6f5"/>
<rect x="206.88" y="624.02" width="41.23" height="34.56" fill="#f1f4f6"/>
<rect x="248.11" y="624.02" width="41.23" height="34.56" fill="#f7f6f5"/>
<rect x="289.34" y="624.02" width="41.23" height="34.56" fill="#f8f4f2"/>
<rect x="330.58" y="624.02" width="41.23" height="34.56" fill="#fbe6da"/>
<rect x="371.81" y="624.02" width="41.23" height="34.56" fill="#f7bb9f"/>
<rect x="413.05" y="624.02" width="41.23" height="34.56" fill="#f8f4f1"/>
<rect x="454.28" y="624.02" width="41.23" height="34.56" fill="#f1f4f6"/>
<rect x="495.52" y="624.02" width="41.23" height="34.56" fill="#deebf2"/>
<rect x="536.75" y="624.02" width="41.23" height="34.56" fill="#c6dfed"/>
<rect x="577.99" y="624.02" width="41.23" height="34.56" fill="#dceaf2"/>
<rect x="619.23" y="624.02" width="41.23" height="34.56" fill="#e8f0f4"/>
<rect x="660.46" y="624.02" width="41.23" height="34.56" fill="#eef2f5"/>
<rect x="701.7" y="624.02" width="41.23" height="34.56" fill="#f3f5f6"/>
<rect x="742.93" y="624.02" width="41.23" height="34.56" fill="#eaf1f5"/>
<rect x="784.17" y="624.02" width="41.23" height="34.56" fill="#e8f0f4"/>
<rect x="825.4" y="624.02" width="41.23" height="34.56" fill="#c6dfed"/>
<rect x="866.63" y="624.02" width="41.23" height="34.56" fill="#daeaf2"/>
<rect x="907.87" y="624.02" width="41.23" height="34.56" fill="#deebf2"/>
<rect x="949.11" y="624.02" width="41.23" height="34.56" fill="#c1dceb"/>
<rect x="990.34" y="624.02" width="41.23" height="34.56" fill="#eaf1f5"/>
<rect x="1031.58" y="624.02" width="41.23" height="34.56" fill="#b1d3e6"/>
<rect x="1072.81" y="624.02" width="41.23" height="34.56" fill="#f7f7f7"/>
<rect x="1114.05" y="624.02" width="41.23" height="34.56" fill="#d1e5f0"/>
<rect x="1155.28" y="624.02" width="41.23" height="34.56" fill="#e8f0f4"/>
<rect x="1196.52" y="624.02" width="41.23" height="34.56" fill="#f8f3f1"/>
<rect x="1237.75" y="624.02" width="41.23" height="34.56" fill="#f3f5f6"/>
<rect x="1278.99" y="624.02" width="41.23" height="34.56" fill="#f8f4f2"/>
<rect x="1320.22" y="624.02" width="41.23" height="34.56" fill="#d9e9f1"/>
<rect x="1361.45" y="624.02" width="41.23" height="34.56" fill="#a1cae1"/>
<rect x="1402.69" y="624.02" width="41.23" height="34.56" fill="#b6d6e8"/>
<rect x="1443.92" y="624.02" width="41.23" height="34.56" fill="#91c1dc"/>
<rect x="1485.16" y="624.02" width="41.23" height="34.56" fill="#acd0e4"/>
<rect x="1526.39" y="624.02" width="41.23" height="34.56" fill="#2166ac"/>
<rect x="1567.63" y="624.02" width="41.23" height="34.56" fill="#2166ac"/>
<rect x="1608.87" y="624.02" width="41.23" height="34.56" fill="#599cc8"/>
<rect x="1650.1" y="624.02" width="41.23" height="34.56" fill="#2166ac"/>
<rect x="1691.34" y="624.02" width="41.23" height="34.56" fill="#67a9cf"/>
<rect x="0.7" y="658.58" width="41.23" height="34.56" fill="#f8f4f2"/>
<rect x="41.94" y="658.58" width="41.23" height="34.56" fill="#f8f4f2"/>
<rect x="83.17" y="658.58" width="41.23" height="34.56" fill="#faeae1"/>
<rect x="124.41" y="658.58" width="41.23" height="34.56" fill="#f7f7f7"/>
<rect x="165.64" y="658.58" width="41.23" height="34.56" fill="#f9ece4"/>
<rect x="206.88" y="658.58" width="41.23" height="34.56" fill="#f7bb9f"/>
<rect x="248.11" y="658.58" width="41.23" height="34.56" fill="#f8f1ed"/>
<rect x="289.34" y="658.58" width="41.23" height="34.56" fill="#f9c3a9"/>
<rect x="330.58" y="658.58" width="41.23" height="34.56" fill="#f5f6f7"/>
<rect x="371.81" y="658.58" width="41.23" height="34.56" fill="#f8f3f0"/>
<rect x="413.05" y="658.58" width="41.23" height="34.56" fill="#dceaf2"/>
<rect x="454.28" y="658.58" width="41.23" height="34.56" fill="#f7f7f7"/>
<rect x="495.52" y="658.58" width="41.23" height="34.56" fill="#d3e6f0"/>
<rect x="536.75" y="658.58" width="41.23" height="34.56" fill="#b1d3e6"/>
<rect x="577.99" y="658.58" width="41.23" height="34.56" fill="#fbe5d8"/>
<rect x="619.23" y="658.58" width="41.23" height="34.56" fill="#f1f4f6"/>
<rect x="660.46" y="658.58" width="41.23" height="34.56" fill="#f5f6f7"/>
<rect x="701.7" y="658.58" width="41.23" height="34.56" fill="#f7f7f7"/>
<rect x="742.93" y="658.58" width="41.23" height="34.56" fill="#d1e5f0"/>
<rect x="784.17" y="658.58" width="41.23" height="34.56" fill="#a7cde3"/>
<rect x="825.4" y="658.58" width="41.23" height="34.56" fill="#97c4de"/>
<rect x="866.63" y="658.58" width="41.23" height="34.56" fill="#f7f7f7"/>
<rect x="907.87" y="658.58" width="41.23" height="34.56" fill="#f5f6f7"/>
<rect x="949.11" y="658.58" width="41.23" height="34.56" fill="#9cc7e0"/>
<rect x="990.34" y="658.58" width="41.23" height="34.56" fill="#deebf2"/>
<rect x="1031.58" y="658.58" width="41.23" height="34.56" fill="#f7f6f5"/>
<rect x="1072.81" y="658.58" width="41.23" height="34.56" fill="#e0ecf3"/>
<rect x="1114.05" y="658.58" width="41.23" height="34.56" fill="#dceaf2"/>
<rect x="1155.28" y="658.58" width="41.23" height="34.56" fill="#fddcc9"/>
<rect x="1196.52" y="658.58" width="41.23" height="34.56" fill="#d3e6f0"/>
<rect x="1237.75" y="658.58" width="41.23" height="34.56" fill="#f7f7f7"/>
<rect x="1278.99" y="658.58" width="41.23" height="34.56" fill="#deebf2"/>
<rect x="1320.22" y="658.58" width="41.23" height="34.56" fill="#eef2f5"/>
<rect x="1361.45" y="658.58" width="41.23" height="34.56" fill="#4e92c3"/>
<rect x="1402.69" y="658.58" width="41.23" height="34.56" fill="#d9e9f1"/>
<rect x="1443.92" y="658.58" width="41.23" height="34.56" fill="#daeaf2"/>
<rect x="1485.16" y="658.58" width="41.23" height="34.56" fill="#d1e5f0"/>
<rect x="1526.39" y="658.58" width="41.23" height="34.56" fill="#4488be"/>
<rect x="1567.63" y="658.58" width="41.23" height="34.56" fill="#2c70b1"/>
<rect x="1608.87" y="658.58" width="41.23" height="34.56" fill="#deebf2"/>
<rect x="1650.1" y="658.58" width="41.23" height="34.56" fill="#f3f5f6"/>
<rect x="1691.34" y="658.58" width="41.23" height="34.56" fill="#cce2ee"/>
<rect x="0.7" y="693.14" width="41.23" height="34.56" fill="#97c4de"/>
<rect x="41.94" y="693.14" width="41.23" height="34.56" fill="#5c9fca"/>
<rect x="83.17" y="693.14" width="41.23" height="34.56" fill="#77b2d4"/>
<rect x="124.41" y="693.14" width="41.23" height="34.56" fill="#d1e5f0"/>
<rect x="165.64" y="693.14" width="41.23" height="34.56" fill="#a1cae1"/>
<rect x="206.88" y="693.14" width="41.23" height="34.56" fill="#8cbedb"/>
<rect x="248.11" y="693.14" width="41.23" height="34.56" fill="#77b2d4"/>
<rect x="289.34" y="693.14" width="41.23" height="34.56" fill="#4b8ec1"/>
<rect x="330.58" y="693.14" width="41.23" height="34.56" fill="#91c1dc"/>
<rect x="371.81" y="693.14" width="41.23" height="34.56" fill="#8cbedb"/>
<rect x="413.05" y="693.14" width="41.23" height="34.56" fill="#64a6cd"/>
<rect x="454.28" y="693.14" width="41.23" height="34.56" fill="#488bbf"/>
<rect x="495.52" y="693.14" width="41.23" height="34.56" fill="#b1d3e6"/>
<rect x="536.75" y="693.14" width="41.23" height="34.56" fill="#67a9cf"/>
<rect x="577.99" y="693.14" width="41.23" height="34.56" fill="#6cacd1"/>
<rect x="619.23" y="693.14" width="41.23" height="34.56" fill="#9cc7e0"/>
<rect x="660.46" y="693.14" width="41.23" height="34.56" fill="#cce2ee"/>
<rect x="701.7" y="693.14" width="41.23" height="34.56" fill="#b6d6e8"/>
<rect x="742.93" y="693.14" width="41.23" height="34.56" fill="#f7f6f5"/>
<rect x="784.17" y="693.14" width="41.23" height="34.56" fill="#deebf2"/>
<rect x="825.4" y="693.14" width="41.23" height="34.56" fill="#b1d3e6"/>
<rect x="866.63" y="693.14" width="41.23" height="34.56" fill="#f1f4f6"/>
<rect x="907.87" y="693.14" width="41.23" height="34.56" fill="#97c4de"/>
<rect x="949.11" y="693.14" width="41.23" height="34.56" fill="#daeaf2"/>
<rect x="990.34" y="693.14" width="41.23" height="34.56" fill="#367ab6"/>
<rect x="1031.58" y="693.14" width="41.23" height="34.56" fill="#82b8d7"/>
<rect x="1072.81" y="693.14" width="41.23" height="34.56" fill="#4e92c3"/>
<rect x="1114.05" y="693.14" width="41.23" height="34.56" fill="#8cbedb"/>
<rect x="1155.28" y="693.14" width="41.23" height="34.56" fill="#a7cde3"/>
<rect x="1196.52" y="693.14" width="41.23" height="34.56" fill="#599cc8"/>
<rect x="1237.75" y="693.14" width="41.23" height="34.56" fill="#d3e6f0"/>
<rect x="1278.99" y="693.14" width="41.23" height="34.56" fill="#c6dfed"/>
<rect x="1320.22" y="693.14" width="41.23" height="34.56" fill="#9cc7e0"/>
<rect x="1361.45" y="693.14" width="41.23" height="34.56" fill="#f9ede6"/>
<rect x="1402.69" y="693.14" width="41.23" height="34.56" fill="#d9e9f1"/>
<rect x="1443.92" y="693.14" width="41.23" height="34.56" fill="#f7f7f7"/>
<rect x="1485.16" y="693.14" width="41.23" height="34.56" fill="#f8f3f0"/>
<rect x="1526.39" y="693.14" width="41.23" height="34.56" fill="#fce2d3"/>
<rect x="1567.63" y="693.14" width="41.23" height="34.56" fill="#f7bb9f"/>
<rect x="1608.87" y="693.14" width="41.23" height="34.56" fill="#fce2d3"/>
<rect x="1650.1" y="693.14" width="41.23" height="34.56" fill="#f9c3a9"/>
<rect x="1691.34" y="693.14" width="41.23" height="34.56" fill="#eff3f6"/>
<rect x="0.7" y="727.7" width="41.23" height="34.56" fill="#2166ac"/>
<rect x="41.94" y="727.7" width="41.23" height="34.56" fill="#2166ac"/>
<rect x="83.17" y="727.7" width="41.23" height="34.56" fill="#4b8ec1"/>
<rect x="124.41" y="727.7" width="41.23" height="34.56" fill="#82b8d7"/>
<rect x="165.64" y="727.7" width="41.23" height="34.56" fill="#c1dceb"/>
<rect x="206.88" y="727.7" width="41.23" height="34.56" fill="#91c1dc"/>
<rect x="248.11" y="727.7" width="41.23" height="34.56" fill="#3277b5"/>
<rect x="289.34" y="727.7" width="41.23" height="34.56" fill="#5295c4"/>
<rect x="330.58" y="727.7" width="41.23" height="34.56" fill="#4488be"/>
<rect x="371.81" y="727.7" width="41.23" height="34.56" fill="#2166ac"/>
<rect x="413.05" y="727.7" width="41.23" height="34.56" fill="#2166ac"/>
<rect x="454.28" y="727.7" width="41.23" height="34.56" fill="#2166ac"/>
<rect x="495.52" y="727.7" width="41.23" height="34.56" fill="#2c70b1"/>
<rect x="536.75" y="727.7" width="41.23" height="34.56" fill="#2166ac"/>
<rect x="577.99" y="727.7" width="41.23" height="34.56" fill="#91c1dc"/>
<rect x="619.23" y="727.7" width="41.23" height="34.56" fill="#c6dfed"/>
<rect x="660.46" y="727.7" width="41.23" height="34.56" fill="#daeaf2"/>
<rect x="701.7" y="727.7" width="41.23" height="34.56" fill="#a7cde3"/>
<rect x="742.93" y="727.7" width="41.23" height="34.56" fill="#97c4de"/>
<rect x="784.17" y="727.7" width="41.23" height="34.56" fill="#9cc7e0"/>
<rect x="825.4" y="727.7" width="41.23" height="34.56" fill="#91c1dc"/>
<rect x="866.63" y="727.7" width="41.23" height="34.56" fill="#d1e5f0"/>
<rect x="907.87" y="727.7" width="41.23" height="34.56" fill="#3d81ba"/>
<rect x="949.11" y="727.7" width="41.23" height="34.56" fill="#2c70b1"/>
<rect x="990.34" y="727.7" width="41.23" height="34.56" fill="#2c70b1"/>
<rect x="1031.58" y="727.7" width="41.23" height="34.56" fill="#9cc7e0"/>
<rect x="1072.81" y="727.7" width="41.23" height="34.56" fill="#77b2d4"/>
<rect x="1114.05" y="727.7" width="41.23" height="34.56" fill="#82b8d7"/>
<rect x="1155.28" y="727.7" width="41.23" height="34.56" fill="#67a9cf"/>
<rect x="1196.52" y="727.7" width="41.23" height="34.56" fill="#599cc8"/>
<rect x="1237.75" y="727.7" width="41.23" height="34.56" fill="#eaf1f5"/>
<rect x="1278.99" y="727.7" width="41.23" height="34.56" fill="#d9e9f1"/>
<rect x="1320.22" y="727.7" width="41.23" height="34.56" fill="#bcd9e9"/>
<rect x="1361.45" y="727.7" width="41.23" height="34.56" fill="#f3f5f6"/>
<rect x="1402.69" y="727.7" width="41.23" height="34.56" fill="#f7f7f7"/>
<rect x="1443.92" y="727.7" width="41.23" height="34.56" fill="#f7f7f7"/>
<rect x="1485.16" y="727.7" width="41.23" height="34.56" fill="#f8f3f0"/>
<rect x="1526.39" y="727.7" width="41.23" height="34.56" fill="#fddcc9"/>
<rect x="1567.63" y="727.7" width="41.23" height="34.56" fill="#fce2d3"/>
<rect x="1608.87" y="727.7" width="41.23" height="34.56" fill="#f6b294"/>
<rect x="1650.1" y="727.7" width="41.23" height="34.56" fill="#fbe6da"/>
<rect x="1691.34" y="727.7" width="41.23" height="34.56" fill="#fcd7c2"/>
<rect x="0.7" y="762.26" width="41.23" height="31.74" fill="#77b2d4"/>
<rect x="41.94" y="762.26" width="41.23" height="31.74" fill="#8cbedb"/>
<rect x="83.17" y="762.26" width="41.23" height="31.74" fill="#4488be"/>
<rect x="124.41" y="762.26" width="41.23" height="31.74" fill="#d3e6f0"/>
<rect x="165.64" y="762.26" width="41.23" height="31.74" fill="#64a6cd"/>
<rect x="206.88" y="762.26" width="41.23" height="31.74" fill="#4b8ec1"/>
<rect x="248.11" y="762.26" width="41.23" height="31.74" fill="#4e92c3"/>
<rect x="289.34" y="762.26" width="41.23" height="31.74" fill="#5698c6"/>
<rect x="330.58" y="762.26" width="41.23" height="31.74" fill="#2166ac"/>
<rect x="371.81" y="762.26" width="41.23" height="31.74" fill="#488bbf"/>
<rect x="413.05" y="762.26" width="41.23" height="31.74" fill="#599cc8"/>
<rect x="454.28" y="762.26" width="41.23" height="31.74" fill="#2f73b3"/>
<rect x="495.52" y="762.26" width="41.23" height="31.74" fill="#2166ac"/>
<rect x="536.75" y="762.26" width="41.23" height="31.74" fill="#2166ac"/>
<rect x="577.99" y="762.26" width="41.23" height="31.74" fill="#2166ac"/>
<rect x="619.23" y="762.26" width="41.23" height="31.74" fill="#2166ac"/>
<rect x="660.46" y="762.26" width="41.23" height="31.74" fill="#488bbf"/>
<rect x="701.7" y="762.26" width="41.23" height="31.74" fill="#2166ac"/>
<rect x="742.93" y="762.26" width="41.23" height="31.74" fill="#4488be"/>
<rect x="784.17" y="762.26" width="41.23" height="31.74" fill="#3a7db8"/>
<rect x="825.4" y="762.26" width="41.23" height="31.74" fill="#a7cde3"/>
<rect x="866.63" y="762.26" width="41.23" height="31.74" fill="#97c4de"/>
<rect x="907.87" y="762.26" width="41.23" height="31.74" fill="#2166ac"/>
<rect x="949.11" y="762.26" width="41.23" height="31.74" fill="#2166ac"/>
<rect x="990.34" y="762.26" width="41.23" height="31.74" fill="#2166ac"/>
<rect x="1031.58" y="762.26" width="41.23" height="31.74" fill="#3277b5"/>
<rect x="1072.81" y="762.26" width="41.23" height="31.74" fill="#97c4de"/>
<rect x="1114.05" y="762.26" width="41.23" height="31.74" fill="#9cc7e0"/>
<rect x="1155.28" y="762.26" width="41.23" height="31.74" fill="#91c1dc"/>
<rect x="1196.52" y="762.26" width="41.23" height="31.74" fill="#d3e6f0"/>
<rect x="1237.75" y="762.26" width="41.23" height="31.74" fill="#eff3f6"/>
<rect x="1278.99" y="762.26" width="41.23" height="31.74" fill="#8cbedb"/>
<rect x="1320.22" y="762.26" width="41.23" height="31.74" fill="#d9e9f1"/>
<rect x="1361.45" y="762.26" width="41.23" height="31.74" fill="#fcd3bd"/>
<rect x="1402.69" y="762.26" width="41.23" height="31.74" fill="#fbe3d5"/>
<rect x="1443.92" y="762.26" width="41.23" height="31.74" fill="#f1f4f6"/>
<rect x="1485.16" y="762.26" width="41.23" height="31.74" fill="#fce2d3"/>
<rect x="1526.39" y="762.26" width="41.23" height="31.74" fill="#b2182b"/>
<rect x="1567.63" y="762.26" width="41.23" height="31.74" fill="#d05146"/>
<rect x="1608.87" y="762.26" width="41.23" height="31.74" fill="#b2182b"/>
<rect x="1650.1" y="762.26" width="41.23" height="31.74" fill="#fbe5d8"/>
<rect x="1691.34" y="762.26" width="41.23" height="31.74" fill="#f8f4f2"/>
<rect x="0.7" y="794" width="41.23" height="34.3" fill="#97c4de"/>
<rect x="41.94" y="794" width="41.23" height="34.3" fill="#91c1dc"/>
<rect x="83.17" y="794" width="41.23" height="34.3" fill="#77b2d4"/>
<rect x="124.41" y="794" width="41.23" height="34.3" fill="#4b8ec1"/>
<rect x="165.64" y="794" width="41.23" height="34.3" fill="#87bbd9"/>
<rect x="206.88" y="794" width="41.23" height="34.3" fill="#60a2cc"/>
<rect x="248.11" y="794" width="41.23" height="34.3" fill="#cce2ee"/>
<rect x="289.34" y="794" width="41.23" height="34.3" fill="#97c4de"/>
<rect x="330.58" y="794" width="41.23" height="34.3" fill="#64a6cd"/>
<rect x="371.81" y="794" width="41.23" height="34.3" fill="#77b2d4"/>
<rect x="413.05" y="794" width="41.23" height="34.3" fill="#dceaf2"/>
<rect x="454.28" y="794" width="41.23" height="34.3" fill="#d7e8f1"/>
<rect x="495.52" y="794" width="41.23" height="34.3" fill="#b6d6e8"/>
<rect x="536.75" y="794" width="41.23" height="34.3" fill="#77b2d4"/>
<rect x="577.99" y="794" width="41.23" height="34.3" fill="#6cacd1"/>
<rect x="619.23" y="794" width="41.23" height="34.3" fill="#9cc7e0"/>
<rect x="660.46" y="794" width="41.23" height="34.3" fill="#67a9cf"/>
<rect x="701.7" y="794" width="41.23" height="34.3" fill="#8cbedb"/>
<rect x="742.93" y="794" width="41.23" height="34.3" fill="#3a7db8"/>
<rect x="784.17" y="794" width="41.23" height="34.3" fill="#60a2cc"/>
<rect x="825.4" y="794" width="41.23" height="34.3" fill="#4488be"/>
<rect x="866.63" y="794" width="41.23" height="34.3" fill="#2f73b3"/>
<rect x="907.87" y="794" width="41.23" height="34.3" fill="#2166ac"/>
<rect x="949.11" y="794" width="41.23" height="34.3" fill="#2f73b3"/>
<rect x="990.34" y="794" width="41.23" height="34.3" fill="#2469ae"/>
<rect x="1031.58" y="794" width="41.23" height="34.3" fill="#64a6cd"/>
<rect x="1072.81" y="794" width="41.23" height="34.3" fill="#60a2cc"/>
<rect x="1114.05" y="794" width="41.23" height="34.3" fill="#8cbedb"/>
<rect x="1155.28" y="794" width="41.23" height="34.3" fill="#77b2d4"/>
<rect x="1196.52" y="794" width="41.23" height="34.3" fill="#97c4de"/>
<rect x="1237.75" y="794" width="41.23" height="34.3" fill="#67a9cf"/>
<rect x="1278.99" y="794" width="41.23" height="34.3" fill="#3d81ba"/>
<rect x="1320.22" y="794" width="41.23" height="34.3" fill="#82b8d7"/>
<rect x="1361.45" y="794" width="41.23" height="34.3" fill="#c1dceb"/>
<rect x="1402.69" y="794" width="41.23" height="34.3" fill="#9cc7e0"/>
<rect x="1443.92" y="794" width="41.23" height="34.3" fill="#97c4de"/>
<rect x="1485.16" y="794" width="41.23" height="34.3" fill="#5698c6"/>
<rect x="1526.39" y="794" width="41.23" height="34.3" fill="#82b8d7"/>
<rect x="1567.63" y="794" width="41.23" height="34.3" fill="#a1cae1"/>
<rect x="1608.87" y="794" width="41.23" height="34.3" fill="#d5e7f1"/>
<rect x="1650.1" y="794" width="41.23" height="34.3" fill="#67a9cf"/>
<rect x="1691.34" y="794" width="41.23" height="34.3" fill="#fcd7c2"/>
<rect x="0.7" y="828.3" width="41.23" height="34.3" fill="#b6d6e8"/>
<rect x="41.94" y="828.3" width="41.23" height="34.3" fill="#a1cae1"/>
<rect x="83.17" y="828.3" width="41.23" height="34.3" fill="#daeaf2"/>
<rect x="124.41" y="828.3" width="41.23" height="34.3" fill="#9cc7e0"/>
<rect x="165.64" y="828.3" width="41.23" height="34.3" fill="#97c4de"/>
<rect x="206.88" y="828.3" width="41.23" height="34.3" fill="#6cacd1"/>
<rect x="248.11" y="828.3" width="41.23" height="34.3" fill="#64a6cd"/>
<rect x="289.34" y="828.3" width="41.23" height="34.3" fill="#82b8d7"/>
<rect x="330.58" y="828.3" width="41.23" height="34.3" fill="#599cc8"/>
<rect x="371.81" y="828.3" width="41.23" height="34.3" fill="#599cc8"/>
<rect x="413.05" y="828.3" width="41.23" height="34.3" fill="#cce2ee"/>
<rect x="454.28" y="828.3" width="41.23" height="34.3" fill="#91c1dc"/>
<rect x="495.52" y="828.3" width="41.23" height="34.3" fill="#60a2cc"/>
<rect x="536.75" y="828.3" width="41.23" height="34.3" fill="#3d81ba"/>
<rect x="577.99" y="828.3" width="41.23" height="34.3" fill="#4b8ec1"/>
<rect x="619.23" y="828.3" width="41.23" height="34.3" fill="#4488be"/>
<rect x="660.46" y="828.3" width="41.23" height="34.3" fill="#7cb5d6"/>
<rect x="701.7" y="828.3" width="41.23" height="34.3" fill="#367ab6"/>
<rect x="742.93" y="828.3" width="41.23" height="34.3" fill="#60a2cc"/>
<rect x="784.17" y="828.3" width="41.23" height="34.3" fill="#82b8d7"/>
<rect x="825.4" y="828.3" width="41.23" height="34.3" fill="#5c9fca"/>
<rect x="866.63" y="828.3" width="41.23" height="34.3" fill="#67a9cf"/>
<rect x="907.87" y="828.3" width="41.23" height="34.3" fill="#3a7db8"/>
<rect x="949.11" y="828.3" width="41.23" height="34.3" fill="#2c70b1"/>
<rect x="990.34" y="828.3" width="41.23" height="34.3" fill="#2166ac"/>
<rect x="1031.58" y="828.3" width="41.23" height="34.3" fill="#c1dceb"/>
<rect x="1072.81" y="828.3" width="41.23" height="34.3" fill="#d3e6f0"/>
<rect x="1114.05" y="828.3" width="41.23" height="34.3" fill="#64a6cd"/>
<rect x="1155.28" y="828.3" width="41.23" height="34.3" fill="#a1cae1"/>
<rect x="1196.52" y="828.3" width="41.23" height="34.3" fill="#b6d6e8"/>
<rect x="1237.75" y="828.3" width="41.23" height="34.3" fill="#488bbf"/>
<rect x="1278.99" y="828.3" width="41.23" height="34.3" fill="#9cc7e0"/>
<rect x="1320.22" y="828.3" width="41.23" height="34.3" fill="#4e92c3"/>
<rect x="1361.45" y="828.3" width="41.23" height="34.3" fill="#60a2cc"/>
<rect x="1402.69" y="828.3" width="41.23" height="34.3" fill="#82b8d7"/>
<rect x="1443.92" y="828.3" width="41.23" height="34.3" fill="#3d81ba"/>
<rect x="1485.16" y="828.3" width="41.23" height="34.3" fill="#7cb5d6"/>
<rect x="1526.39" y="828.3" width="41.23" height="34.3" fill="#a1cae1"/>
<rect x="1567.63" y="828.3" width="41.23" height="34.3" fill="#f3f5f6"/>
<rect x="1608.87" y="828.3" width="41.23" height="34.3" fill="#dceaf2"/>
<rect x="1650.1" y="828.3" width="41.23" height="34.3" fill="#c6dfed"/>
<rect x="1691.34" y="828.3" width="41.23" height="34.3" fill="#f3a280"/>
<rect x="0.7" y="862.6" width="41.23" height="34.5" fill="#d1e5f0"/>
<rect x="41.94" y="862.6" width="41.23" height="34.5" fill="#91c1dc"/>
<rect x="83.17" y="862.6" width="41.23" height="34.5" fill="#9cc7e0"/>
<rect x="124.41" y="862.6" width="41.23" height="34.5" fill="#deebf2"/>
<rect x="165.64" y="862.6" width="41.23" height="34.5" fill="#cce2ee"/>
<rect x="206.88" y="862.6" width="41.23" height="34.5" fill="#8cbedb"/>
<rect x="248.11" y="862.6" width="41.23" height="34.5" fill="#97c4de"/>
<rect x="289.34" y="862.6" width="41.23" height="34.5" fill="#b6d6e8"/>
<rect x="330.58" y="862.6" width="41.23" height="34.5" fill="#82b8d7"/>
<rect x="371.81" y="862.6" width="41.23" height="34.5" fill="#87bbd9"/>
<rect x="413.05" y="862.6" width="41.23" height="34.5" fill="#d1e5f0"/>
<rect x="454.28" y="862.6" width="41.23" height="34.5" fill="#d3e6f0"/>
<rect x="495.52" y="862.6" width="41.23" height="34.5" fill="#5c9fca"/>
<rect x="536.75" y="862.6" width="41.23" height="34.5" fill="#7cb5d6"/>
<rect x="577.99" y="862.6" width="41.23" height="34.5" fill="#87bbd9"/>
<rect x="619.23" y="862.6" width="41.23" height="34.5" fill="#daeaf2"/>
<rect x="660.46" y="862.6" width="41.23" height="34.5" fill="#d1e5f0"/>
<rect x="701.7" y="862.6" width="41.23" height="34.5" fill="#8cbedb"/>
<rect x="742.93" y="862.6" width="41.23" height="34.5" fill="#82b8d7"/>
<rect x="784.17" y="862.6" width="41.23" height="34.5" fill="#deebf2"/>
<rect x="825.4" y="862.6" width="41.23" height="34.5" fill="#e2edf3"/>
<rect x="866.63" y="862.6" width="41.23" height="34.5" fill="#2f73b3"/>
<rect x="907.87" y="862.6" width="41.23" height="34.5" fill="#82b8d7"/>
<rect x="949.11" y="862.6" width="41.23" height="34.5" fill="#2166ac"/>
<rect x="990.34" y="862.6" width="41.23" height="34.5" fill="#2166ac"/>
<rect x="1031.58" y="862.6" width="41.23" height="34.5" fill="#d3e6f0"/>
<rect x="1072.81" y="862.6" width="41.23" height="34.5" fill="#91c1dc"/>
<rect x="1114.05" y="862.6" width="41.23" height="34.5" fill="#8cbedb"/>
<rect x="1155.28" y="862.6" width="41.23" height="34.5" fill="#6cacd1"/>
<rect x="1196.52" y="862.6" width="41.23" height="34.5" fill="#97c4de"/>
<rect x="1237.75" y="862.6" width="41.23" height="34.5" fill="#c1dceb"/>
<rect x="1278.99" y="862.6" width="41.23" height="34.5" fill="#77b2d4"/>
<rect x="1320.22" y="862.6" width="41.23" height="34.5" fill="#2166ac"/>
<rect x="1361.45" y="862.6" width="41.23" height="34.5" fill="#91c1dc"/>
<rect x="1402.69" y="862.6" width="41.23" height="34.5" fill="#4488be"/>
<rect x="1443.92" y="862.6" width="41.23" height="34.5" fill="#5295c4"/>
<rect x="1485.16" y="862.6" width="41.23" height="34.5" fill="#82b8d7"/>
<rect x="1526.39" y="862.6" width="41.23" height="34.5" fill="#f7f7f7"/>
<rect x="1567.63" y="862.6" width="41.23" height="34.5" fill="#b1d3e6"/>
<rect x="1608.87" y="862.6" width="41.23" height="34.5" fill="#e8f0f4"/>
<rect x="1650.1" y="862.6" width="41.23" height="34.5" fill="#f3f5f6"/>
<rect x="1691.34" y="862.6" width="41.23" height="34.5" fill="#fbcfb8"/>
</g>
<defs><clipPath id="hc"><rect x="0" y="762.26" width="1740" height="31.74"/></clipPath></defs>
<g id="stars" font-size="23">
<text transform="translate(25.96 226.85) rotate(-90)" x="-9.61 0.64">**</text>
<text transform="translate(71.8 226.25) rotate(-90)" x="-9.61 0.64">**</text>
<text transform="translate(113.03 226.25) rotate(-90)" x="-9.61 0.64">**</text>
<text transform="translate(154.27 226.85) rotate(-90)" x="-14.73 -4.49 5.76">***</text>
<text transform="translate(195.5 226.85) rotate(-90)" x="-14.73 -4.49 5.76">***</text>
<text transform="translate(236.74 226.85) rotate(-90)" x="-14.73 -4.49 5.76">***</text>
<text transform="translate(277.97 227.65) rotate(-90)" x="-9.61 0.64">**</text>
<text transform="translate(319.21 226.85) rotate(-90)" x="-14.73 -4.49 5.76">***</text>
<text transform="translate(360.44 227.65) rotate(-90)" x="-9.61 0.64">**</text>
<text transform="translate(401.68 228.05) rotate(-90)" x="-4.49">*</text>
<text transform="translate(484.15 228.05) rotate(-90)" x="-4.49">*</text>
<text transform="translate(607.85 227.65) rotate(-90)" x="-9.61 0.64">**</text>
<text transform="translate(649.09 227.65) rotate(-90)" x="-9.61 0.64">**</text>
<text transform="translate(690.32 226.85) rotate(-90)" x="-14.73 -4.49 5.76">***</text>
<text transform="translate(731.56 227.65) rotate(-90)" x="-9.61 0.64">**</text>
<text transform="translate(772.79 228.05) rotate(-90)" x="-4.49">*</text>
<text transform="translate(814.03 226.85) rotate(-90)" x="-14.73 -4.49 5.76">***</text>
<text transform="translate(855.26 226.85) rotate(-90)" x="-14.73 -4.49 5.76">***</text>
<text transform="translate(896.5 226.85) rotate(-90)" x="-14.73 -4.49 5.76">***</text>
<text transform="translate(937.73 228.05) rotate(-90)" x="-4.49">*</text>
<text transform="translate(1061.44 227.65) rotate(-90)" x="-9.61 0.64">**</text>
<text transform="translate(1102.67 228.05) rotate(-90)" x="-4.49">*</text>
<text transform="translate(1143.91 228.05) rotate(-90)" x="-4.49">*</text>
<text transform="translate(1185.14 227.65) rotate(-90)" x="-9.61 0.64">**</text>
<text transform="translate(1267.61 226.85) rotate(-90)" x="-14.73 -4.49 5.76">***</text>
<text transform="translate(1308.85 226.85) rotate(-90)" x="-14.73 -4.49 5.76">***</text>
<text transform="translate(1350.08 226.85) rotate(-90)" x="-14.73 -4.49 5.76">***</text>
<text transform="translate(1432.55 228.05) rotate(-90)" x="-4.49">*</text>
<text transform="translate(1515.02 228.05) rotate(-90)" x="-4.49">*</text>
<text transform="translate(30.86 263.41) rotate(-90)" x="-14.73 -4.49 5.76">***</text>
<text transform="translate(71.8 261.41) rotate(-90)" x="-14.73 -4.49 5.76">***</text>
<text transform="translate(113.03 261.41) rotate(-90)" x="-14.73 -4.49 5.76">***</text>
<text transform="translate(154.27 261.41) rotate(-90)" x="-14.73 -4.49 5.76">***</text>
<text transform="translate(195.5 261.41) rotate(-90)" x="-14.73 -4.49 5.76">***</text>
<text transform="translate(236.74 261.41) rotate(-90)" x="-14.73 -4.49 5.76">***</text>
<text transform="translate(277.97 261.41) rotate(-90)" x="-14.73 -4.49 5.76">***</text>
<text transform="translate(319.21 261.41) rotate(-90)" x="-14.73 -4.49 5.76">***</text>
<text transform="translate(360.44 262.21) rotate(-90)" x="-9.61 0.64">**</text>
<text transform="translate(401.68 261.41) rotate(-90)" x="-14.73 -4.49 5.76">***</text>
<text transform="translate(442.91 261.41) rotate(-90)" x="-14.73 -4.49 5.76">***</text>
<text transform="translate(484.15 261.41) rotate(-90)" x="-14.73 -4.49 5.76">***</text>
<text transform="translate(525.38 261.41) rotate(-90)" x="-14.73 -4.49 5.76">***</text>
<text transform="translate(566.62 261.41) rotate(-90)" x="-14.73 -4.49 5.76">***</text>
<text transform="translate(607.85 262.21) rotate(-90)" x="-9.61 0.64">**</text>
<text transform="translate(649.09 261.41) rotate(-90)" x="-14.73 -4.49 5.76">***</text>
<text transform="translate(690.32 261.41) rotate(-90)" x="-14.73 -4.49 5.76">***</text>
<text transform="translate(731.56 262.21) rotate(-90)" x="-9.61 0.64">**</text>
<text transform="translate(772.79 262.21) rotate(-90)" x="-9.61 0.64">**</text>
<text transform="translate(814.03 261.41) rotate(-90)" x="-14.73 -4.49 5.76">***</text>
<text transform="translate(855.26 262.21) rotate(-90)" x="-9.61 0.64">**</text>
<text transform="translate(896.5 261.41) rotate(-90)" x="-14.73 -4.49 5.76">***</text>
<text transform="translate(978.97 262.61) rotate(-90)" x="-4.49">*</text>
<text transform="translate(1020.2 262.61) rotate(-90)" x="-4.49">*</text>
<text transform="translate(1061.44 262.21) rotate(-90)" x="-9.61 0.64">**</text>
<text transform="translate(1102.67 261.41) rotate(-90)" x="-14.73 -4.49 5.76">***</text>
<text transform="translate(1143.91 262.21) rotate(-90)" x="-9.61 0.64">**</text>
<text transform="translate(1185.14 261.41) rotate(-90)" x="-14.73 -4.49 5.76">***</text>
<text transform="translate(1226.38 262.61) rotate(-90)" x="-4.49">*</text>
<text transform="translate(1267.61 262.21) rotate(-90)" x="-9.61 0.64">**</text>
<text transform="translate(1308.85 261.41) rotate(-90)" x="-14.73 -4.49 5.76">***</text>
<text transform="translate(1350.08 262.21) rotate(-90)" x="-9.61 0.64">**</text>
<text transform="translate(1432.55 262.61) rotate(-90)" x="-4.49">*</text>
<text transform="translate(1515.02 262.61) rotate(-90)" x="-4.49">*</text>
<text transform="translate(30.56 296.77) rotate(-90)" x="-9.61 0.64">**</text>
<text transform="translate(71.8 296.77) rotate(-90)" x="-9.61 0.64">**</text>
<text transform="translate(113.03 295.97) rotate(-90)" x="-14.73 -4.49 5.76">***</text>
<text transform="translate(154.27 296.77) rotate(-90)" x="-9.61 0.64">**</text>
<text transform="translate(195.5 296.77) rotate(-90)" x="-9.61 0.64">**</text>
<text transform="translate(236.74 296.77) rotate(-90)" x="-9.61 0.64">**</text>
<text transform="translate(277.97 296.77) rotate(-90)" x="-9.61 0.64">**</text>
<text transform="translate(319.21 296.77) rotate(-90)" x="-9.61 0.64">**</text>
<text transform="translate(360.44 296.77) rotate(-90)" x="-9.61 0.64">**</text>
<text transform="translate(401.68 295.97) rotate(-90)" x="-14.73 -4.49 5.76">***</text>
<text transform="translate(442.91 296.77) rotate(-90)" x="-9.61 0.64">**</text>
<text transform="translate(484.15 297.17) rotate(-90)" x="-4.49">*</text>
<text transform="translate(525.38 297.17) rotate(-90)" x="-4.49">*</text>
<text transform="translate(566.62 296.77) rotate(-90)" x="-9.61 0.64">**</text>
<text transform="translate(607.85 296.77) rotate(-90)" x="-9.61 0.64">**</text>
<text transform="translate(649.09 295.97) rotate(-90)" x="-14.73 -4.49 5.76">***</text>
<text transform="translate(690.32 295.97) rotate(-90)" x="-14.73 -4.49 5.76">***</text>
<text transform="translate(731.56 297.17) rotate(-90)" x="-4.49">*</text>
<text transform="translate(772.79 296.77) rotate(-90)" x="-9.61 0.64">**</text>
<text transform="translate(855.26 296.77) rotate(-90)" x="-9.61 0.64">**</text>
<text transform="translate(937.73 297.17) rotate(-90)" x="-4.49">*</text>
<text transform="translate(978.97 297.17) rotate(-90)" x="-4.49">*</text>
<text transform="translate(1061.44 297.17) rotate(-90)" x="-4.49">*</text>
<text transform="translate(1102.67 296.77) rotate(-90)" x="-9.61 0.64">**</text>
<text transform="translate(1267.61 297.17) rotate(-90)" x="-4.49">*</text>
<text transform="translate(1308.85 297.17) rotate(-90)" x="-4.49">*</text>
<text transform="translate(30.56 331.73) rotate(-90)" x="-4.49">*</text>
<text transform="translate(71.8 331.73) rotate(-90)" x="-4.49">*</text>
<text transform="translate(113.03 331.33) rotate(-90)" x="-9.61 0.64">**</text>
<text transform="translate(154.27 331.73) rotate(-90)" x="-4.49">*</text>
<text transform="translate(195.5 331.33) rotate(-90)" x="-9.61 0.64">**</text>
<text transform="translate(236.74 331.73) rotate(-90)" x="-4.49">*</text>
<text transform="translate(277.97 331.73) rotate(-90)" x="-4.49">*</text>
<text transform="translate(319.21 331.73) rotate(-90)" x="-4.49">*</text>
<text transform="translate(360.44 331.33) rotate(-90)" x="-9.61 0.64">**</text>
<text transform="translate(401.68 331.33) rotate(-90)" x="-9.61 0.64">**</text>
<text transform="translate(442.91 331.73) rotate(-90)" x="-4.49">*</text>
<text transform="translate(484.15 331.33) rotate(-90)" x="-9.61 0.64">**</text>
<text transform="translate(525.38 331.73) rotate(-90)" x="-4.49">*</text>
<text transform="translate(566.62 331.73) rotate(-90)" x="-4.49">*</text>
<text transform="translate(607.85 331.33) rotate(-90)" x="-9.61 0.64">**</text>
<text transform="translate(649.09 331.33) rotate(-90)" x="-9.61 0.64">**</text>
<text transform="translate(690.82 336.73) rotate(-90)" x="-4.49">*</text>
<text transform="translate(731.56 331.33) rotate(-90)" x="-9.61 0.64">**</text>
<text transform="translate(772.79 331.33) rotate(-90)" x="-9.61 0.64">**</text>
<text transform="translate(814.03 331.73) rotate(-90)" x="-4.49">*</text>
<text transform="translate(855.26 331.73) rotate(-90)" x="-4.49">*</text>
<text transform="translate(896.5 331.33) rotate(-90)" x="-9.61 0.64">**</text>
<text transform="translate(937.73 331.73) rotate(-90)" x="-4.49">*</text>
<text transform="translate(978.97 331.73) rotate(-90)" x="-4.49">*</text>
<text transform="translate(1020.2 331.33) rotate(-90)" x="-9.61 0.64">**</text>
<text transform="translate(1061.44 331.73) rotate(-90)" x="-4.49">*</text>
<text transform="translate(1143.91 331.73) rotate(-90)" x="-4.49">*</text>
<text transform="translate(1308.85 331.73) rotate(-90)" x="-4.49">*</text>
<text transform="translate(1391.32 331.73) rotate(-90)" x="-4.49">*</text>
<text transform="translate(1432.55 331.33) rotate(-90)" x="-9.61 0.64">**</text>
<text transform="translate(1515.02 331.73) rotate(-90)" x="-4.49">*</text>
<text transform="translate(30.56 365.89) rotate(-90)" x="-9.61 0.64">**</text>
<text transform="translate(71.8 366.29) rotate(-90)" x="-4.49">*</text>
<text transform="translate(113.03 366.29) rotate(-90)" x="-4.49">*</text>
<text transform="translate(154.27 365.89) rotate(-90)" x="-9.61 0.64">**</text>
<text transform="translate(195.5 365.89) rotate(-90)" x="-9.61 0.64">**</text>
<text transform="translate(236.74 366.29) rotate(-90)" x="-4.49">*</text>
<text transform="translate(277.97 366.29) rotate(-90)" x="-4.49">*</text>
<text transform="translate(319.21 366.29) rotate(-90)" x="-4.49">*</text>
<text transform="translate(360.44 365.89) rotate(-90)" x="-9.61 0.64">**</text>
<text transform="translate(442.91 366.29) rotate(-90)" x="-4.49">*</text>
<text transform="translate(484.15 365.89) rotate(-90)" x="-9.61 0.64">**</text>
<text transform="translate(566.62 365.89) rotate(-90)" x="-9.61 0.64">**</text>
<text transform="translate(607.85 365.09) rotate(-90)" x="-14.73 -4.49 5.76">***</text>
<text transform="translate(649.09 366.29) rotate(-90)" x="-4.49">*</text>
<text transform="translate(690.32 365.89) rotate(-90)" x="-9.61 0.64">**</text>
<text transform="translate(731.56 365.89) rotate(-90)" x="-9.61 0.64">**</text>
<text transform="translate(814.03 366.29) rotate(-90)" x="-4.49">*</text>
<text transform="translate(855.26 365.89) rotate(-90)" x="-9.61 0.64">**</text>
<text transform="translate(896.5 365.09) rotate(-90)" x="-14.73 -4.49 5.76">***</text>
<text transform="translate(937.73 366.29) rotate(-90)" x="-4.49">*</text>
<text transform="translate(1020.2 365.89) rotate(-90)" x="-9.61 0.64">**</text>
<text transform="translate(1391.32 366.29) rotate(-90)" x="-4.49">*</text>
<text transform="translate(1515.02 366.29) rotate(-90)" x="-4.49">*</text>
<text transform="translate(30.56 399.65) rotate(-90)" x="-14.73 -4.49 5.76">***</text>
<text transform="translate(71.8 399.65) rotate(-90)" x="-14.73 -4.49 5.76">***</text>
<text transform="translate(113.03 399.65) rotate(-90)" x="-14.73 -4.49 5.76">***</text>
<text transform="translate(154.27 399.65) rotate(-90)" x="-14.73 -4.49 5.76">***</text>
<text transform="translate(195.5 399.65) rotate(-90)" x="-14.73 -4.49 5.76">***</text>
<text transform="translate(236.74 399.65) rotate(-90)" x="-14.73 -4.49 5.76">***</text>
<text transform="translate(277.97 399.65) rotate(-90)" x="-14.73 -4.49 5.76">***</text>
<text transform="translate(319.21 399.65) rotate(-90)" x="-14.73 -4.49 5.76">***</text>
<text transform="translate(360.44 399.65) rotate(-90)" x="-14.73 -4.49 5.76">***</text>
<text transform="translate(401.68 399.65) rotate(-90)" x="-14.73 -4.49 5.76">***</text>
<text transform="translate(442.91 399.65) rotate(-90)" x="-14.73 -4.49 5.76">***</text>
<text transform="translate(484.15 399.65) rotate(-90)" x="-14.73 -4.49 5.76">***</text>
<text transform="translate(525.38 399.65) rotate(-90)" x="-14.73 -4.49 5.76">***</text>
<text transform="translate(566.62 399.65) rotate(-90)" x="-14.73 -4.49 5.76">***</text>
<text transform="translate(607.85 399.65) rotate(-90)" x="-14.73 -4.49 5.76">***</text>
<text transform="translate(649.09 399.65) rotate(-90)" x="-14.73 -4.49 5.76">***</text>
<text transform="translate(690.32 399.65) rotate(-90)" x="-14.73 -4.49 5.76">***</text>
<text transform="translate(731.56 399.65) rotate(-90)" x="-14.73 -4.49 5.76">***</text>
<text transform="translate(772.79 399.65) rotate(-90)" x="-14.73 -4.49 5.76">***</text>
<text transform="translate(814.03 399.65) rotate(-90)" x="-14.73 -4.49 5.76">***</text>
<text transform="translate(855.26 399.65) rotate(-90)" x="-14.73 -4.49 5.76">***</text>
<text transform="translate(896.5 399.65) rotate(-90)" x="-14.73 -4.49 5.76">***</text>
<text transform="translate(937.73 399.65) rotate(-90)" x="-14.73 -4.49 5.76">***</text>
<text transform="translate(978.97 399.65) rotate(-90)" x="-14.73 -4.49 5.76">***</text>
<text transform="translate(1020.2 400.45) rotate(-90)" x="-9.61 0.64">**</text>
<text transform="translate(1061.44 400.45) rotate(-90)" x="-9.61 0.64">**</text>
<text transform="translate(1102.67 399.65) rotate(-90)" x="-14.73 -4.49 5.76">***</text>
<text transform="translate(1143.91 399.65) rotate(-90)" x="-14.73 -4.49 5.76">***</text>
<text transform="translate(1185.14 399.65) rotate(-90)" x="-14.73 -4.49 5.76">***</text>
<text transform="translate(1226.38 400.45) rotate(-90)" x="-9.61 0.64">**</text>
<text transform="translate(1267.61 400.85) rotate(-90)" x="-4.49">*</text>
<text transform="translate(1308.85 399.65) rotate(-90)" x="-14.73 -4.49 5.76">***</text>
<text transform="translate(1432.55 400.85) rotate(-90)" x="-4.49">*</text>
<text transform="translate(1473.79 400.85) rotate(-90)" x="-4.49">*</text>
<text transform="translate(1515.02 400.45) rotate(-90)" x="-9.61 0.64">**</text>
<text transform="translate(236.74 434.71) rotate(-90)" x="-4.49">*</text>
<text transform="translate(360.44 434.71) rotate(-90)" x="-4.49">*</text>
<text transform="translate(401.68 434.71) rotate(-90)" x="-4.49">*</text>
<text transform="translate(525.38 434.71) rotate(-90)" x="-4.49">*</text>
<text transform="translate(607.85 434.71) rotate(-90)" x="-4.49">*</text>
<text transform="translate(649.09 434.71) rotate(-90)" x="-4.49">*</text>
<text transform="translate(690.32 434.71) rotate(-90)" x="-4.49">*</text>
<text transform="translate(814.03 434.71) rotate(-90)" x="-4.49">*</text>
<text transform="translate(855.26 434.71) rotate(-90)" x="-4.49">*</text>
<text transform="translate(896.5 434.71) rotate(-90)" x="-4.49">*</text>
<text transform="translate(937.73 434.71) rotate(-90)" x="-4.49">*</text>
<text transform="translate(1185.14 434.71) rotate(-90)" x="-4.49">*</text>
<text transform="translate(1226.38 434.71) rotate(-90)" x="-4.49">*</text>
<text transform="translate(1267.61 434.71) rotate(-90)" x="-4.49">*</text>
<text transform="translate(1350.08 434.71) rotate(-90)" x="-4.49">*</text>
<text transform="translate(1391.32 434.71) rotate(-90)" x="-4.49">*</text>
<text transform="translate(1432.55 434.71) rotate(-90)" x="-4.49">*</text>
<text transform="translate(195.5 469.97) rotate(-90)" x="-4.49">*</text>
<text transform="translate(236.74 469.97) rotate(-90)" x="-4.49">*</text>
<text transform="translate(484.15 469.97) rotate(-90)" x="-4.49">*</text>
<text transform="translate(690.32 469.97) rotate(-90)" x="-4.49">*</text>
<text transform="translate(731.56 469.97) rotate(-90)" x="-4.49">*</text>
<text transform="translate(772.79 469.97) rotate(-90)" x="-4.49">*</text>
<text transform="translate(814.03 469.97) rotate(-90)" x="-4.49">*</text>
<text transform="translate(896.5 469.97) rotate(-90)" x="-4.49">*</text>
<text transform="translate(937.73 469.97) rotate(-90)" x="-4.49">*</text>
<text transform="translate(978.97 469.97) rotate(-90)" x="-4.49">*</text>
<text transform="translate(1143.91 469.97) rotate(-90)" x="-4.49">*</text>
<text transform="translate(1185.14 469.97) rotate(-90)" x="-4.49">*</text>
<text transform="translate(1391.32 469.97) rotate(-90)" x="-4.49">*</text>
<text transform="translate(1432.55 469.97) rotate(-90)" x="-4.49">*</text>
<text transform="translate(1473.79 469.97) rotate(-90)" x="-4.49">*</text>
<text transform="translate(277.97 504.03) rotate(-90)" x="-4.49">*</text>
<text transform="translate(319.21 504.03) rotate(-90)" x="-4.49">*</text>
<text transform="translate(442.91 504.03) rotate(-90)" x="-4.49">*</text>
<text transform="translate(525.38 504.03) rotate(-90)" x="-4.49">*</text>
<text transform="translate(649.09 504.03) rotate(-90)" x="-4.49">*</text>
<text transform="translate(855.26 504.03) rotate(-90)" x="-4.49">*</text>
<text transform="translate(1143.91 503.63) rotate(-90)" x="-9.61 0.64">**</text>
<text transform="translate(1226.38 504.03) rotate(-90)" x="-4.49">*</text>
<text transform="translate(113.03 539.59) rotate(-90)" x="-4.49">*</text>
<text transform="translate(525.38 539.59) rotate(-90)" x="-4.49">*</text>
<text transform="translate(566.62 539.59) rotate(-90)" x="-4.49">*</text>
<text transform="translate(649.09 539.59) rotate(-90)" x="-4.49">*</text>
<text transform="translate(690.32 539.59) rotate(-90)" x="-4.49">*</text>
<text transform="translate(731.56 539.59) rotate(-90)" x="-4.49">*</text>
<text transform="translate(896.5 539.59) rotate(-90)" x="-4.49">*</text>
<text transform="translate(814.03 573.65) rotate(-90)" x="-4.49">*</text>
<text transform="translate(690.32 608.21) rotate(-90)" x="-4.49">*</text>
<text transform="translate(772.79 608.21) rotate(-90)" x="-4.49">*</text>
<text transform="translate(855.26 608.21) rotate(-90)" x="-4.49">*</text>
<text transform="translate(401.68 642.37) rotate(-90)" x="-9.61 0.64">**</text>
<text transform="translate(113.03 677.33) rotate(-90)" x="-4.49">*</text>
<text transform="translate(236.74 676.93) rotate(-90)" x="-9.61 0.64">**</text>
<text transform="translate(319.21 676.93) rotate(-90)" x="-9.61 0.64">**</text>
<text transform="translate(607.85 677.33) rotate(-90)" x="-4.49">*</text>
<text transform="translate(1185.14 676.93) rotate(-90)" x="-9.61 0.64">**</text>
<text transform="translate(1556.26 713.39) rotate(-90)" x="-4.49">*</text>
<text transform="translate(1597.49 712.99) rotate(-90)" x="-9.61 0.64">**</text>
<text transform="translate(1638.73 713.39) rotate(-90)" x="-4.49">*</text>
<text transform="translate(1679.96 712.99) rotate(-90)" x="-9.61 0.64">**</text>
<text transform="translate(1556.26 746.85) rotate(-90)" x="-9.61 0.64">**</text>
<text transform="translate(1597.49 747.25) rotate(-90)" x="-4.49">*</text>
<text transform="translate(1638.73 746.85) rotate(-90)" x="-9.61 0.64">**</text>
<text transform="translate(1679.96 747.25) rotate(-90)" x="-4.49">*</text>
<text transform="translate(1721.2 746.85) rotate(-90)" x="-9.61 0.64">**</text>
<g clip-path="url(#hc)">
<text transform="translate(1391.32 778.76) rotate(-90)" x="-9.61 0.64">**</text>
<text transform="translate(1432.55 778.76) rotate(-90)" x="-9.61 0.64">**</text>
<text transform="translate(1515.02 779.06) rotate(-90)" x="-4.49">*</text>
<text transform="translate(1556.26 780.26) rotate(-90)" x="-14.73 -4.49 5.76">***</text>
<text transform="translate(1597.49 780.26) rotate(-90)" x="-14.73 -4.49 5.76">***</text>
<text transform="translate(1638.73 780.26) rotate(-90)" x="-14.73 -4.49 5.76">***</text>
<text transform="translate(1679.96 779.06) rotate(-90)" x="-4.49">*</text>
</g>
<text transform="translate(1721.2 811.55) rotate(-90)" x="-4.49">*</text>
<text transform="translate(1721.2 845.85) rotate(-90)" x="-14.73 -4.49 5.76">***</text>
<text transform="translate(1721.2 882.35) rotate(-90)" x="-9.61 0.64">**</text>
</g>
<g id="rowlabels">
<text x="1745.05" y="237.3" font-size="29.9" textLength="149.1" lengthAdjust="spacingAndGlyphs">Intelligence</text>
<text x="1745.35" y="272" font-size="29.9" textLength="298.65" lengthAdjust="spacingAndGlyphs">Educational attainment</text>
<text x="1745.33" y="306.7" font-size="29.9" textLength="207.87" lengthAdjust="spacingAndGlyphs">Bipolar disorder</text>
<text x="1745.32" y="341.2" font-size="29.9" textLength="156.82" lengthAdjust="spacingAndGlyphs">Neuroticism</text>
<text x="1746" y="375.3" font-size="29.9" textLength="309.26" lengthAdjust="spacingAndGlyphs">Atten. deficit hyper. dis.</text>
<text x="1745.55" y="409.8" font-size="29.9" textLength="184.38" lengthAdjust="spacingAndGlyphs">Schizophrenia</text>
<text x="1746" y="444.6" font-size="29.9" textLength="222.34" lengthAdjust="spacingAndGlyphs">Age at menarche</text>
<text x="1746" y="478.8" font-size="29.9" textLength="174.72" lengthAdjust="spacingAndGlyphs">Age first birth</text>
<text x="1746" y="513.45" font-size="29.9" textLength="375.68" lengthAdjust="spacingAndGlyphs">Amyotrophic lateral sclerosis</text>
<text x="1745.8" y="548" font-size="29.9" textLength="284.16" lengthAdjust="spacingAndGlyphs">Tobacco use disorder</text>
<text x="1745.09" y="582.4" font-size="29.9" textLength="117.54" lengthAdjust="spacingAndGlyphs">Insomnia</text>
<text x="1746" y="616.9" font-size="29.9" textLength="234.02" lengthAdjust="spacingAndGlyphs">Anorexia nervosa.</text>
<text x="1744.92" y="650.9" font-size="29.9" textLength="190.52" lengthAdjust="spacingAndGlyphs">Sleep duration</text>
<text x="1745.42" y="685.2" font-size="29.9" textLength="126.96" lengthAdjust="spacingAndGlyphs">Tiredness</text>
<text x="1745.34" y="719.7" font-size="29.9" textLength="311.27" lengthAdjust="spacingAndGlyphs">Coronary artery disease</text>
<text x="1745.33" y="754.3" font-size="29.9" textLength="154.91" lengthAdjust="spacingAndGlyphs">Birth weight</text>
<text x="1745.35" y="784.6" font-size="29.9" textLength="84.76" lengthAdjust="spacingAndGlyphs">Height</text>
<text x="1745.34" y="820.7" font-size="29.9" textLength="263.69" lengthAdjust="spacingAndGlyphs">Rheumatoid arthritis</text>
<text x="1745.9" y="853.9" font-size="29.9" textLength="86.89" lengthAdjust="spacingAndGlyphs">Allergy</text>
<text x="1745.32" y="889.4" font-size="29.9" textLength="211.13" lengthAdjust="spacingAndGlyphs">Crohn’s disease</text>
</g>
</svg></body></html>
